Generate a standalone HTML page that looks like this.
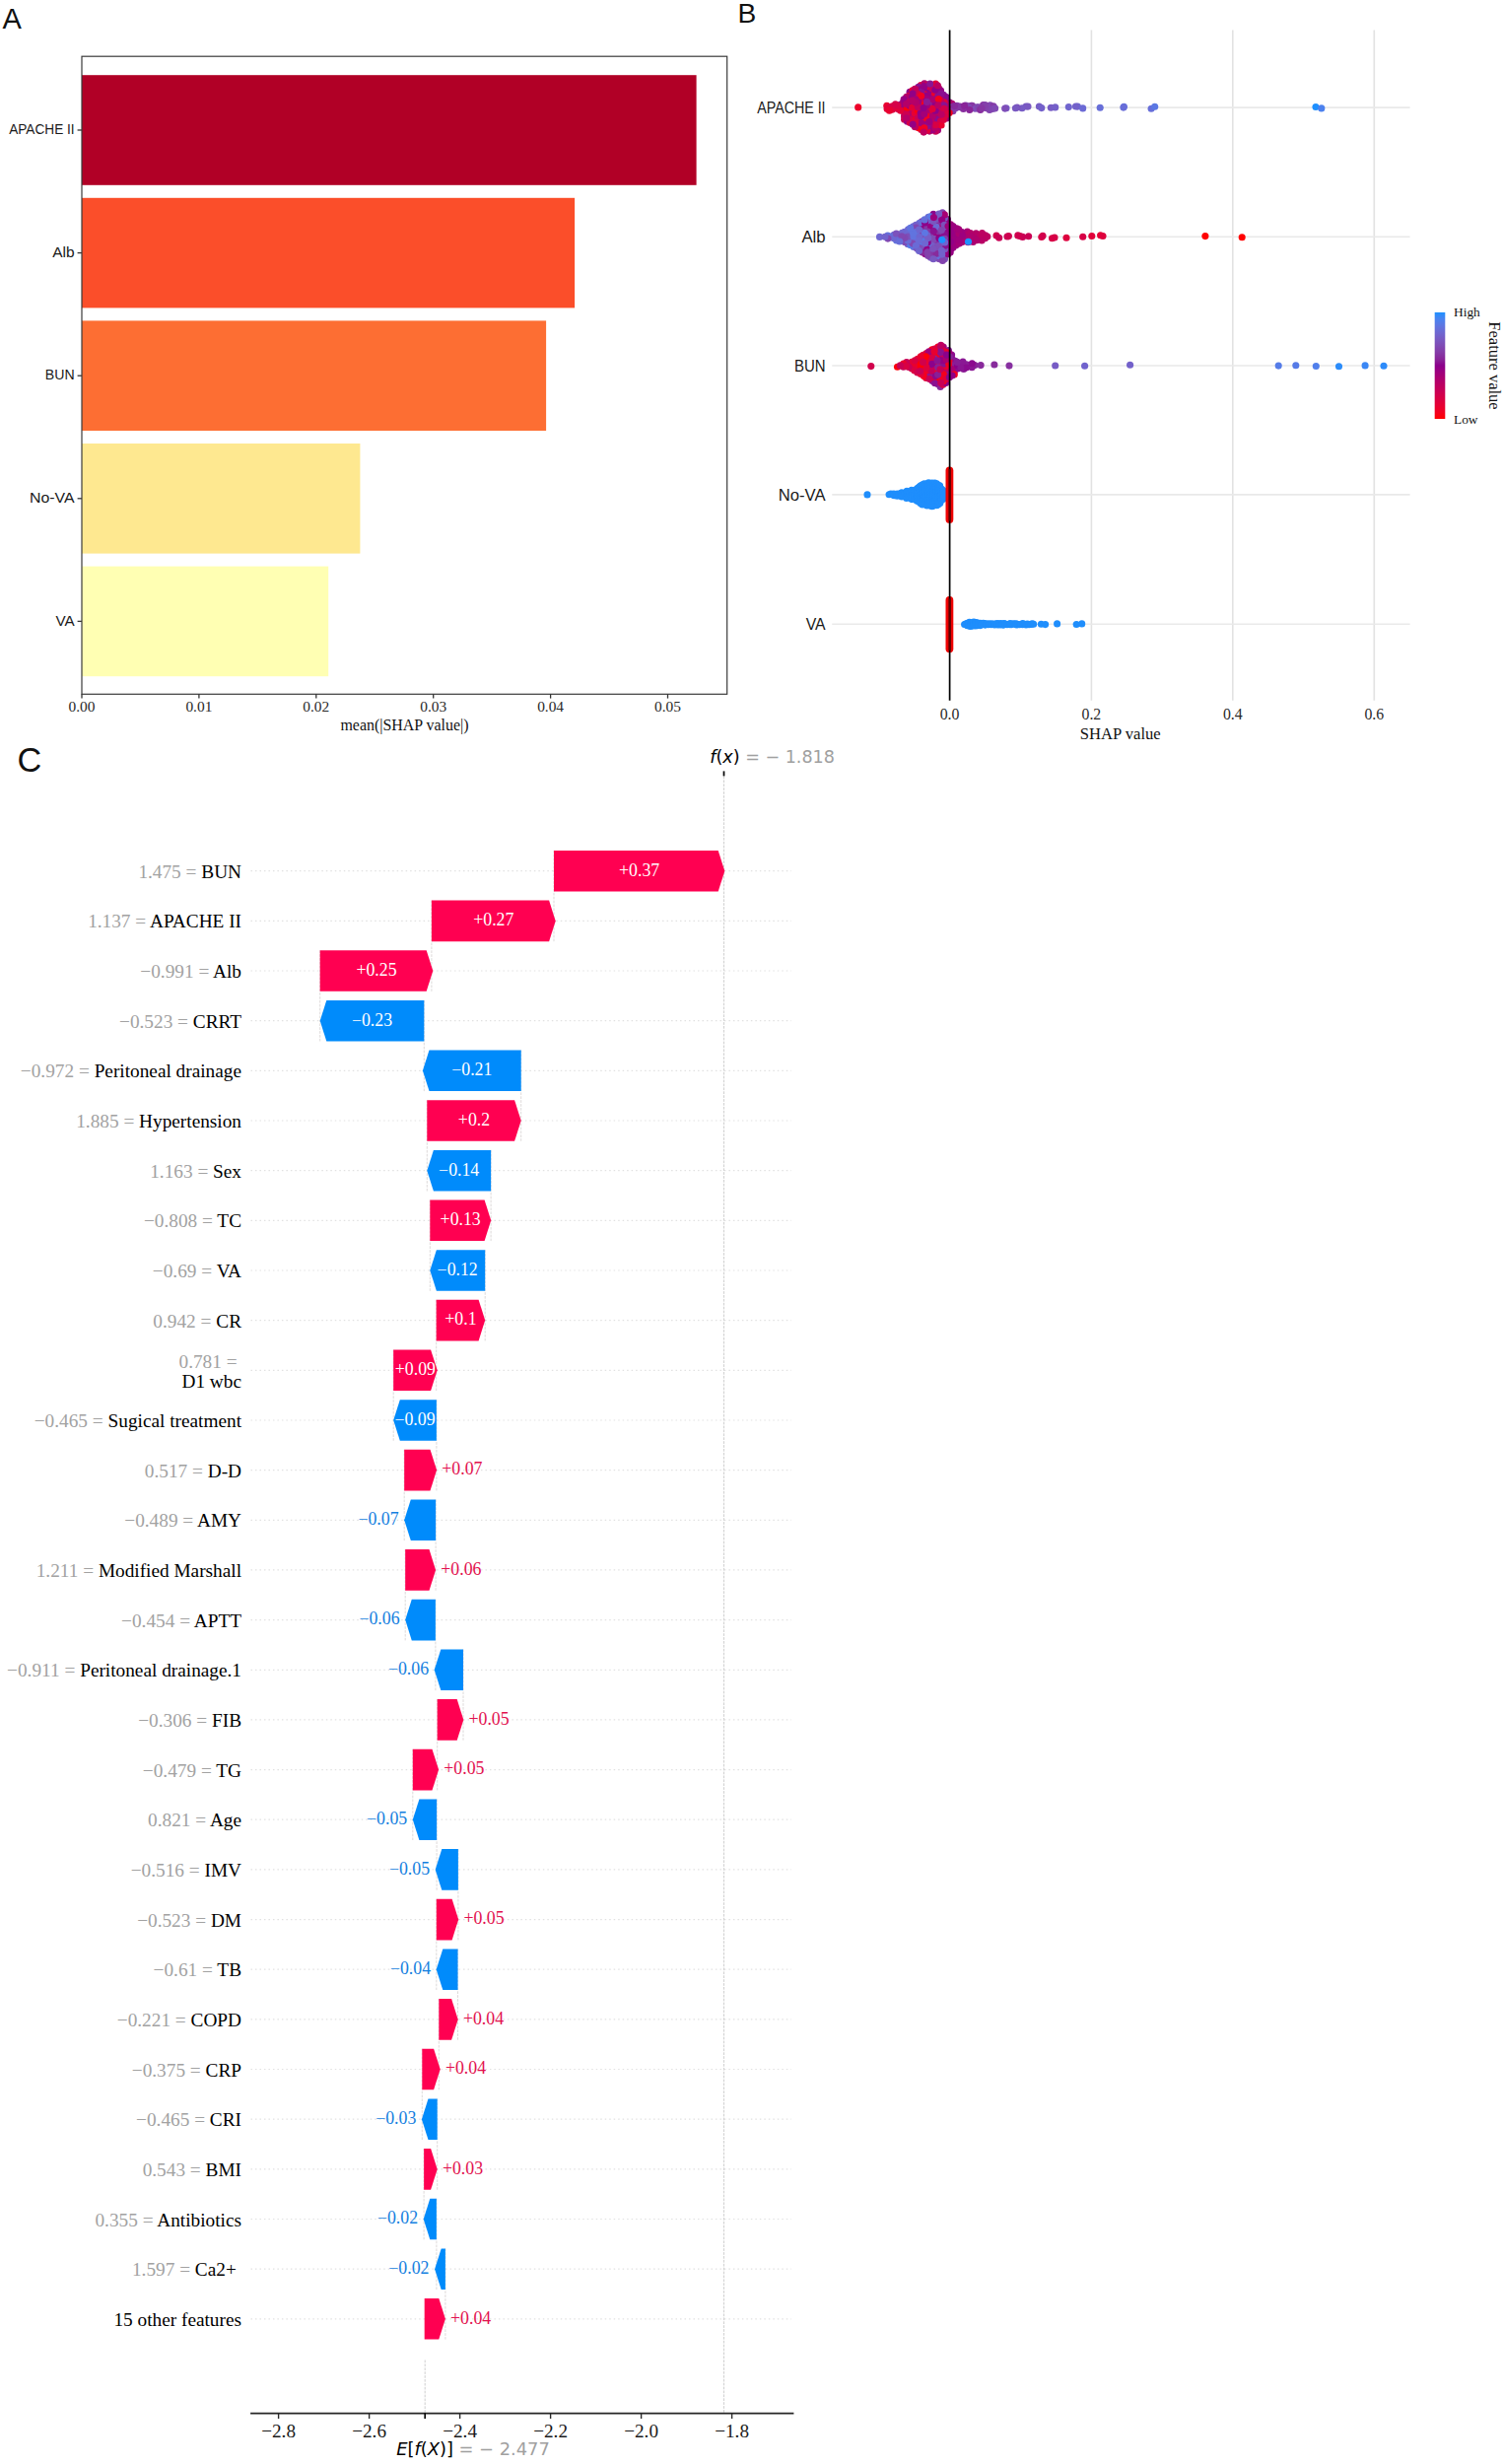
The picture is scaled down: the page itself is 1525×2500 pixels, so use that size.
<!DOCTYPE html>
<html lang="en"><head><meta charset="utf-8"><title>SHAP summary figure</title>
<style>html,body{margin:0;padding:0;background:#fff}svg{display:block}.se{font-family:"Liberation Serif", "DejaVu Serif", serif}.sa{font-family:"Liberation Sans", "DejaVu Sans", sans-serif}.dj{font-family:"DejaVu Sans", "Liberation Sans", sans-serif}</style></head><body>
<svg width="1525" height="2500" viewBox="0 0 1525 2500">
<rect width="1525" height="2500" fill="#fff"/>
<g id="panelA">
<text class="sa" x="2.6" y="28.7" font-size="29.0" fill="#111">A</text>
<rect x="83" y="76.2" width="623.6" height="111.6" fill="#B10026"/>
<line x1="78.6" x2="83" y1="132" y2="132" stroke="#333" stroke-width="1.3"/>
<text class="sa" x="75.6" y="136.1" font-size="15.0" text-anchor="end" fill="#1a1a1a" textLength="66.4" lengthAdjust="spacingAndGlyphs">APACHE II</text>
<rect x="83" y="200.8" width="500.1" height="111.6" fill="#FB4E2A"/>
<line x1="78.6" x2="83" y1="256.6" y2="256.6" stroke="#333" stroke-width="1.3"/>
<text class="sa" x="75.6" y="260.7" font-size="15.0" text-anchor="end" fill="#1a1a1a" textLength="22.4" lengthAdjust="spacingAndGlyphs">Alb</text>
<rect x="83" y="325.4" width="471.1" height="111.6" fill="#FD6E33"/>
<line x1="78.6" x2="83" y1="381.2" y2="381.2" stroke="#333" stroke-width="1.3"/>
<text class="sa" x="75.6" y="385.3" font-size="15.0" text-anchor="end" fill="#1a1a1a" textLength="29.8" lengthAdjust="spacingAndGlyphs">BUN</text>
<rect x="83" y="450" width="282.4" height="111.6" fill="#FEE890"/>
<line x1="78.6" x2="83" y1="505.8" y2="505.8" stroke="#333" stroke-width="1.3"/>
<text class="sa" x="75.6" y="509.9" font-size="15.0" text-anchor="end" fill="#1a1a1a" textLength="45.6" lengthAdjust="spacingAndGlyphs">No-VA</text>
<rect x="83" y="574.6" width="250.2" height="111.6" fill="#FFFFB3"/>
<line x1="78.6" x2="83" y1="630.4" y2="630.4" stroke="#333" stroke-width="1.3"/>
<text class="sa" x="75.6" y="634.5" font-size="15.0" text-anchor="end" fill="#1a1a1a" textLength="19.2" lengthAdjust="spacingAndGlyphs">VA</text>
<rect x="83" y="57.2" width="654.7" height="647.1" fill="none" stroke="#3a3a3a" stroke-width="1.2"/>
<line x1="83" x2="83" y1="704.3" y2="708.6" stroke="#333" stroke-width="1.3"/>
<text class="se" x="83" y="722.4" font-size="15.4" text-anchor="middle" fill="#2a2a2a">0.00</text>
<line x1="201.9" x2="201.9" y1="704.3" y2="708.6" stroke="#333" stroke-width="1.3"/>
<text class="se" x="201.9" y="722.4" font-size="15.4" text-anchor="middle" fill="#2a2a2a">0.01</text>
<line x1="320.8" x2="320.8" y1="704.3" y2="708.6" stroke="#333" stroke-width="1.3"/>
<text class="se" x="320.8" y="722.4" font-size="15.4" text-anchor="middle" fill="#2a2a2a">0.02</text>
<line x1="439.7" x2="439.7" y1="704.3" y2="708.6" stroke="#333" stroke-width="1.3"/>
<text class="se" x="439.7" y="722.4" font-size="15.4" text-anchor="middle" fill="#2a2a2a">0.03</text>
<line x1="558.6" x2="558.6" y1="704.3" y2="708.6" stroke="#333" stroke-width="1.3"/>
<text class="se" x="558.6" y="722.4" font-size="15.4" text-anchor="middle" fill="#2a2a2a">0.04</text>
<line x1="677.5" x2="677.5" y1="704.3" y2="708.6" stroke="#333" stroke-width="1.3"/>
<text class="se" x="677.5" y="722.4" font-size="15.4" text-anchor="middle" fill="#2a2a2a">0.05</text>
<text class="se" x="410.5" y="741.2" font-size="15.95" text-anchor="middle" fill="#111">mean(|SHAP value|)</text>
</g>
<g id="panelB">
<text class="sa" x="748.4" y="23.4" font-size="28.2" fill="#111">B</text>
<line x1="1107.4" x2="1107.4" y1="30.6" y2="710.8" stroke="#e2e2e2" stroke-width="1.6"/>
<line x1="1250.8" x2="1250.8" y1="30.6" y2="710.8" stroke="#e2e2e2" stroke-width="1.6"/>
<line x1="1394.3" x2="1394.3" y1="30.6" y2="710.8" stroke="#e2e2e2" stroke-width="1.6"/>
<line x1="844.3" x2="1430.6" y1="109.1" y2="109.1" stroke="#e9e9e9" stroke-width="1.6"/>
<text class="sa" x="837.6" y="114.9" font-size="15.7" text-anchor="end" fill="#1a1a1a" textLength="69.4" lengthAdjust="spacingAndGlyphs">APACHE II</text>
<line x1="844.3" x2="1430.6" y1="240.2" y2="240.2" stroke="#e9e9e9" stroke-width="1.6"/>
<text class="sa" x="837.6" y="246" font-size="15.7" text-anchor="end" fill="#1a1a1a" textLength="24.2" lengthAdjust="spacingAndGlyphs">Alb</text>
<line x1="844.3" x2="1430.6" y1="371" y2="371" stroke="#e9e9e9" stroke-width="1.6"/>
<text class="sa" x="837.6" y="376.8" font-size="15.7" text-anchor="end" fill="#1a1a1a" textLength="31.6" lengthAdjust="spacingAndGlyphs">BUN</text>
<line x1="844.3" x2="1430.6" y1="501.9" y2="501.9" stroke="#e9e9e9" stroke-width="1.6"/>
<text class="sa" x="837.6" y="507.7" font-size="15.7" text-anchor="end" fill="#1a1a1a" textLength="47.8" lengthAdjust="spacingAndGlyphs">No-VA</text>
<line x1="844.3" x2="1430.6" y1="633.3" y2="633.3" stroke="#e9e9e9" stroke-width="1.6"/>
<text class="sa" x="837.6" y="639.1" font-size="15.7" text-anchor="end" fill="#1a1a1a" textLength="19.9" lengthAdjust="spacingAndGlyphs">VA</text>
<g>
<circle cx="957.7" cy="100.5" r="3.55" fill="#891d96"/>
<circle cx="1093.4" cy="108.1" r="3.55" fill="#6f66cf"/>
<circle cx="928.5" cy="110.3" r="3.55" fill="#df003c"/>
<circle cx="942.9" cy="108.8" r="3.55" fill="#f80012"/>
<circle cx="923.1" cy="114.7" r="3.55" fill="#8f0088"/>
<circle cx="949.6" cy="115.8" r="3.55" fill="#df003b"/>
<circle cx="934.3" cy="86.5" r="3.55" fill="#da0042"/>
<circle cx="943.7" cy="98.8" r="3.55" fill="#ae006e"/>
<circle cx="938" cy="84.7" r="3.55" fill="#b0006c"/>
<circle cx="920.2" cy="112.9" r="3.55" fill="#e10039"/>
<circle cx="975.9" cy="109" r="3.55" fill="#8635a3"/>
<circle cx="937.8" cy="102.1" r="3.55" fill="#dd003e"/>
<circle cx="946.3" cy="103.9" r="3.55" fill="#900087"/>
<circle cx="951.9" cy="128.1" r="3.55" fill="#b30069"/>
<circle cx="1041" cy="108" r="3.55" fill="#7859c2"/>
<circle cx="917.6" cy="110.9" r="3.55" fill="#d70045"/>
<circle cx="946.3" cy="93.3" r="3.55" fill="#f5001a"/>
<circle cx="940.3" cy="121.3" r="3.55" fill="#8b028c"/>
<circle cx="951.5" cy="132.1" r="3.55" fill="#a40077"/>
<circle cx="960.7" cy="112.7" r="3.55" fill="#970082"/>
<circle cx="914.1" cy="108.7" r="3.55" fill="#aa0072"/>
<circle cx="960.4" cy="102.1" r="3.55" fill="#a1007a"/>
<circle cx="899.8" cy="107.2" r="3.55" fill="#e9002f"/>
<circle cx="1168.1" cy="110.2" r="3.55" fill="#676ed9"/>
<circle cx="963.5" cy="110.9" r="3.55" fill="#f00024"/>
<circle cx="923.1" cy="93.2" r="3.55" fill="#8c008a"/>
<circle cx="960.7" cy="120" r="3.55" fill="#a30079"/>
<circle cx="948.8" cy="88.1" r="3.55" fill="#8a1994"/>
<circle cx="920.5" cy="102.6" r="3.55" fill="#b60067"/>
<circle cx="937.5" cy="92.1" r="3.55" fill="#b90064"/>
<circle cx="971" cy="107.4" r="3.55" fill="#843da8"/>
<circle cx="917.6" cy="114.6" r="3.55" fill="#b80065"/>
<circle cx="1335" cy="108.5" r="3.55" fill="#1e90ff"/>
<circle cx="934.6" cy="100.8" r="3.55" fill="#cd0051"/>
<circle cx="946.3" cy="107.2" r="3.55" fill="#9d007d"/>
<circle cx="1054.4" cy="108" r="3.55" fill="#765cc5"/>
<circle cx="1004.7" cy="106.9" r="3.55" fill="#8145b0"/>
<circle cx="917.5" cy="118.1" r="3.55" fill="#bf005e"/>
<circle cx="943" cy="112.6" r="3.55" fill="#a40077"/>
<circle cx="934.7" cy="131.4" r="3.55" fill="#d60046"/>
<circle cx="931.8" cy="126.3" r="3.55" fill="#fb000b"/>
<circle cx="1066.3" cy="109.3" r="3.55" fill="#775bc4"/>
<circle cx="1004.1" cy="111.4" r="3.55" fill="#8242ad"/>
<circle cx="928.3" cy="117.3" r="3.55" fill="#8c008a"/>
<circle cx="1037" cy="109.7" r="3.55" fill="#775cc5"/>
<circle cx="966.9" cy="112.7" r="3.55" fill="#8636a3"/>
<circle cx="923.4" cy="100.3" r="3.55" fill="#c60057"/>
<circle cx="937.7" cy="112.5" r="3.55" fill="#9c007f"/>
<circle cx="948.9" cy="101.9" r="3.55" fill="#a0007b"/>
<circle cx="940.3" cy="93.2" r="3.55" fill="#ba0063"/>
<circle cx="943.6" cy="94.6" r="3.55" fill="#d40048"/>
<circle cx="949" cy="120.1" r="3.55" fill="#8d008a"/>
<circle cx="913.8" cy="106" r="3.55" fill="#940085"/>
<circle cx="957.4" cy="96.3" r="3.55" fill="#8a1091"/>
<circle cx="922.4" cy="97.2" r="3.55" fill="#e40035"/>
<circle cx="963.8" cy="107" r="3.55" fill="#ab0070"/>
<circle cx="949.3" cy="133.3" r="3.55" fill="#c60058"/>
<circle cx="943.1" cy="133.1" r="3.55" fill="#b2006a"/>
<circle cx="942.7" cy="119.5" r="3.55" fill="#bc0061"/>
<circle cx="977.5" cy="110.5" r="3.55" fill="#882d9e"/>
<circle cx="870.7" cy="108.9" r="3.55" fill="#ed0029"/>
<circle cx="917.6" cy="121.2" r="3.55" fill="#cd0051"/>
<circle cx="916.7" cy="103.4" r="3.55" fill="#ad006f"/>
<circle cx="943.7" cy="116.1" r="3.55" fill="#c3005b"/>
<circle cx="922.5" cy="111.3" r="3.55" fill="#a90073"/>
<circle cx="952.1" cy="104" r="3.55" fill="#c70057"/>
<circle cx="1021" cy="109.7" r="3.55" fill="#785ac3"/>
<circle cx="1171.7" cy="108.3" r="3.55" fill="#5b78e3"/>
<circle cx="911.9" cy="111.1" r="3.55" fill="#cd0051"/>
<circle cx="946.1" cy="97.1" r="3.55" fill="#a2007a"/>
<circle cx="949.3" cy="99" r="3.55" fill="#ce0050"/>
<circle cx="928.4" cy="97.1" r="3.55" fill="#960083"/>
<circle cx="954.7" cy="98.2" r="3.55" fill="#c70056"/>
<circle cx="923.4" cy="117.9" r="3.55" fill="#930085"/>
<circle cx="940.1" cy="89.4" r="3.55" fill="#8c008b"/>
<circle cx="908.3" cy="109.3" r="3.55" fill="#e60033"/>
<circle cx="926.3" cy="115.7" r="3.55" fill="#b2006a"/>
<circle cx="917.1" cy="107.6" r="3.55" fill="#990081"/>
<circle cx="955" cy="113" r="3.55" fill="#cb0053"/>
<circle cx="951.5" cy="93.5" r="3.55" fill="#ba0063"/>
<circle cx="940.1" cy="125.1" r="3.55" fill="#8f0088"/>
<circle cx="937.1" cy="98.6" r="3.55" fill="#ae006e"/>
<circle cx="937.2" cy="106" r="3.55" fill="#8e0089"/>
<circle cx="943.8" cy="91.2" r="3.55" fill="#910087"/>
<circle cx="969.5" cy="109.7" r="3.55" fill="#8340ac"/>
<circle cx="951.4" cy="117.8" r="3.55" fill="#8d0089"/>
<circle cx="925.4" cy="123.5" r="3.55" fill="#d1004c"/>
<circle cx="934.7" cy="110.8" r="3.55" fill="#f60019"/>
<circle cx="943.4" cy="102.1" r="3.55" fill="#920086"/>
<circle cx="949.3" cy="85.1" r="3.55" fill="#e20038"/>
<circle cx="955.2" cy="105.1" r="3.55" fill="#8b088e"/>
<circle cx="937.9" cy="126.1" r="3.55" fill="#940085"/>
<circle cx="952" cy="125" r="3.55" fill="#8e0089"/>
<circle cx="946.3" cy="131.7" r="3.55" fill="#9d007e"/>
<circle cx="942.8" cy="105.1" r="3.55" fill="#891f96"/>
<circle cx="932" cy="129.7" r="3.55" fill="#f70015"/>
<circle cx="913.8" cy="112.3" r="3.55" fill="#e0003b"/>
<circle cx="925.8" cy="112.3" r="3.55" fill="#b80065"/>
<circle cx="948.6" cy="95.1" r="3.55" fill="#ed0029"/>
<circle cx="945.8" cy="86.3" r="3.55" fill="#ec002a"/>
<circle cx="937.9" cy="95.6" r="3.55" fill="#de003c"/>
<circle cx="919.8" cy="98.3" r="3.55" fill="#b1006c"/>
<circle cx="1002.8" cy="109.3" r="3.55" fill="#8049b3"/>
<circle cx="932.2" cy="116.6" r="3.55" fill="#8c008a"/>
<circle cx="963.6" cy="104" r="3.55" fill="#9a0080"/>
<circle cx="905.4" cy="107.8" r="3.55" fill="#d80044"/>
<circle cx="917.1" cy="100.9" r="3.55" fill="#960083"/>
<circle cx="942.7" cy="129.9" r="3.55" fill="#980081"/>
<circle cx="940.6" cy="97" r="3.55" fill="#940084"/>
<circle cx="960.3" cy="98.6" r="3.55" fill="#8b098e"/>
<circle cx="946.6" cy="127.8" r="3.55" fill="#990081"/>
<circle cx="1070.7" cy="108.9" r="3.55" fill="#745fc8"/>
<circle cx="958" cy="114.7" r="3.55" fill="#8a0e90"/>
<circle cx="966" cy="105.2" r="3.55" fill="#ae006e"/>
<circle cx="920.2" cy="109.5" r="3.55" fill="#fa000e"/>
<circle cx="948.8" cy="108.6" r="3.55" fill="#f10023"/>
<circle cx="934.1" cy="121.1" r="3.55" fill="#cb0053"/>
<circle cx="935" cy="128.1" r="3.55" fill="#f4001e"/>
<circle cx="1140.4" cy="108.3" r="3.55" fill="#6570db"/>
<circle cx="948.8" cy="129.9" r="3.55" fill="#b50068"/>
<circle cx="1019.6" cy="110.1" r="3.55" fill="#7e4eb8"/>
<circle cx="934" cy="104" r="3.55" fill="#e20038"/>
<circle cx="903" cy="109.1" r="3.55" fill="#d40049"/>
<circle cx="1098.7" cy="109.9" r="3.55" fill="#6b6ad5"/>
<circle cx="931.8" cy="88.3" r="3.55" fill="#8a1091"/>
<circle cx="928.3" cy="107.6" r="3.55" fill="#960083"/>
<circle cx="1056.8" cy="109.6" r="3.55" fill="#7360ca"/>
<circle cx="931.5" cy="98.1" r="3.55" fill="#db0040"/>
<circle cx="925.6" cy="98.6" r="3.55" fill="#920086"/>
<circle cx="954.5" cy="119.3" r="3.55" fill="#8b068d"/>
<circle cx="946.2" cy="124.8" r="3.55" fill="#a70074"/>
<circle cx="974" cy="108" r="3.55" fill="#872f9f"/>
<circle cx="919.6" cy="116" r="3.55" fill="#cd0051"/>
<circle cx="966.2" cy="108.6" r="3.55" fill="#853ca8"/>
<circle cx="934.5" cy="106.9" r="3.55" fill="#f4001e"/>
<circle cx="946.1" cy="120.9" r="3.55" fill="#8e0089"/>
<circle cx="940.7" cy="132.2" r="3.55" fill="#e10039"/>
<circle cx="922.6" cy="103.6" r="3.55" fill="#bd0060"/>
<circle cx="926.3" cy="120.1" r="3.55" fill="#c70057"/>
<circle cx="946" cy="114.9" r="3.55" fill="#dc003f"/>
<circle cx="929.2" cy="121.5" r="3.55" fill="#f60017"/>
<circle cx="940.1" cy="100.4" r="3.55" fill="#9e007d"/>
<circle cx="940.3" cy="110.5" r="3.55" fill="#c80055"/>
<circle cx="931.5" cy="91.6" r="3.55" fill="#c1005c"/>
<circle cx="900.1" cy="110.6" r="3.55" fill="#e20037"/>
<circle cx="940.8" cy="86.3" r="3.55" fill="#d0004d"/>
<circle cx="963.2" cy="114.5" r="3.55" fill="#f10022"/>
<circle cx="923" cy="121.8" r="3.55" fill="#d70046"/>
<circle cx="905.7" cy="111.1" r="3.55" fill="#dd003f"/>
<circle cx="948.6" cy="123.1" r="3.55" fill="#be005f"/>
<circle cx="934.9" cy="90.3" r="3.55" fill="#950083"/>
<circle cx="1008" cy="107.9" r="3.55" fill="#853ba7"/>
<circle cx="928.3" cy="114.7" r="3.55" fill="#e60034"/>
<circle cx="988.1" cy="109.7" r="3.55" fill="#8244af"/>
<circle cx="1116.2" cy="109.3" r="3.55" fill="#676ed8"/>
<circle cx="902.4" cy="112.2" r="3.55" fill="#e80030"/>
<circle cx="986.5" cy="107.2" r="3.55" fill="#8637a4"/>
<circle cx="960.6" cy="116.1" r="3.55" fill="#db0041"/>
<circle cx="937.2" cy="123" r="3.55" fill="#9b0080"/>
<circle cx="1032" cy="109" r="3.55" fill="#7b54bd"/>
<circle cx="931.1" cy="123" r="3.55" fill="#930085"/>
<circle cx="952.4" cy="89.3" r="3.55" fill="#b50067"/>
<circle cx="920.5" cy="123.3" r="3.55" fill="#960083"/>
<circle cx="951.5" cy="121.2" r="3.55" fill="#8a0b8f"/>
<circle cx="931.1" cy="120" r="3.55" fill="#ca0054"/>
<circle cx="940" cy="114.4" r="3.55" fill="#ac0070"/>
<circle cx="934.9" cy="93" r="3.55" fill="#8a1091"/>
<circle cx="991.1" cy="108.9" r="3.55" fill="#7f4bb5"/>
<circle cx="923.3" cy="124.5" r="3.55" fill="#d80044"/>
<circle cx="925.9" cy="91.9" r="3.55" fill="#e40035"/>
<circle cx="937" cy="120.1" r="3.55" fill="#ef0025"/>
<circle cx="928.3" cy="93.1" r="3.55" fill="#f20021"/>
<circle cx="954.5" cy="91.9" r="3.55" fill="#980082"/>
<circle cx="952.2" cy="111.3" r="3.55" fill="#eb002b"/>
<circle cx="926.3" cy="105.3" r="3.55" fill="#980081"/>
<circle cx="919.7" cy="119.9" r="3.55" fill="#b60067"/>
<circle cx="931.2" cy="106" r="3.55" fill="#8a0a8f"/>
<circle cx="1139.9" cy="109.1" r="3.55" fill="#686dd8"/>
<circle cx="954.5" cy="122.9" r="3.55" fill="#d1004d"/>
<circle cx="960.3" cy="105.5" r="3.55" fill="#ac0070"/>
<circle cx="1340.8" cy="109.9" r="3.55" fill="#4c81ee"/>
<circle cx="985.4" cy="107.3" r="3.55" fill="#8636a4"/>
<circle cx="981.8" cy="107.8" r="3.55" fill="#89279a"/>
<circle cx="989.8" cy="110.2" r="3.55" fill="#7f4cb6"/>
<circle cx="982.7" cy="108.7" r="3.55" fill="#8049b4"/>
<circle cx="958.1" cy="103.7" r="3.55" fill="#dd003e"/>
<circle cx="931.5" cy="95.5" r="3.55" fill="#d60046"/>
<circle cx="973" cy="108.6" r="3.55" fill="#8635a3"/>
<circle cx="955.1" cy="127" r="3.55" fill="#ea002e"/>
<circle cx="980" cy="107" r="3.55" fill="#8147b1"/>
<circle cx="949.4" cy="126.8" r="3.55" fill="#d80044"/>
<circle cx="955" cy="109.3" r="3.55" fill="#d50048"/>
<circle cx="1030.4" cy="109.7" r="3.55" fill="#7958c1"/>
<circle cx="931.3" cy="112.3" r="3.55" fill="#f90010"/>
<circle cx="928.3" cy="90.3" r="3.55" fill="#c2005b"/>
<circle cx="943" cy="126.5" r="3.55" fill="#ab0071"/>
<circle cx="928.4" cy="128.8" r="3.55" fill="#ba0062"/>
<circle cx="954.4" cy="102.1" r="3.55" fill="#c2005b"/>
<circle cx="951.8" cy="97.3" r="3.55" fill="#8a0f91"/>
<circle cx="968.5" cy="107.6" r="3.55" fill="#88299b"/>
<circle cx="934.7" cy="124.8" r="3.55" fill="#a1007a"/>
<circle cx="997.6" cy="106.5" r="3.55" fill="#8732a1"/>
<circle cx="1000.3" cy="109.6" r="3.55" fill="#8341ac"/>
<circle cx="983.8" cy="111.5" r="3.55" fill="#892599"/>
<circle cx="931.8" cy="102.5" r="3.55" fill="#a1007a"/>
<circle cx="961.1" cy="108.7" r="3.55" fill="#b40069"/>
<circle cx="992.9" cy="108.7" r="3.55" fill="#8145af"/>
<circle cx="940.1" cy="117.9" r="3.55" fill="#f00024"/>
<circle cx="943" cy="87.7" r="3.55" fill="#d60047"/>
<circle cx="1006.9" cy="110.5" r="3.55" fill="#8145b0"/>
<circle cx="934.1" cy="114.8" r="3.55" fill="#8f0088"/>
<circle cx="957.7" cy="106.9" r="3.55" fill="#8a1191"/>
<circle cx="946.4" cy="117.7" r="3.55" fill="#af006d"/>
<circle cx="951.8" cy="114.2" r="3.55" fill="#b80065"/>
<circle cx="940.9" cy="127.9" r="3.55" fill="#8a0e90"/>
<circle cx="978.6" cy="107.3" r="3.55" fill="#892398"/>
<circle cx="926" cy="95.1" r="3.55" fill="#910086"/>
<circle cx="945.8" cy="89.7" r="3.55" fill="#c90054"/>
<circle cx="934.6" cy="118.1" r="3.55" fill="#920086"/>
<circle cx="948.9" cy="91.3" r="3.55" fill="#8d0089"/>
<circle cx="937.9" cy="87.6" r="3.55" fill="#940085"/>
<circle cx="911" cy="107.3" r="3.55" fill="#d80044"/>
<circle cx="1043" cy="108.1" r="3.55" fill="#7959c2"/>
<circle cx="949.1" cy="112.2" r="3.55" fill="#8c008a"/>
<circle cx="958" cy="118.3" r="3.55" fill="#d2004b"/>
<circle cx="955" cy="95" r="3.55" fill="#8a0f90"/>
<circle cx="957.3" cy="121.5" r="3.55" fill="#dd003e"/>
<circle cx="949.2" cy="105.6" r="3.55" fill="#8e0089"/>
<circle cx="946.7" cy="100.8" r="3.55" fill="#aa0072"/>
<circle cx="923.2" cy="107.2" r="3.55" fill="#8f0088"/>
<circle cx="943.7" cy="85" r="3.55" fill="#8a1593"/>
<circle cx="928.5" cy="124.4" r="3.55" fill="#d90043"/>
<circle cx="951.4" cy="86.8" r="3.55" fill="#bc0061"/>
<circle cx="994.3" cy="110.7" r="3.55" fill="#8244af"/>
<circle cx="937.8" cy="115.6" r="3.55" fill="#a30078"/>
<circle cx="925.4" cy="109" r="3.55" fill="#e10039"/>
<circle cx="942.9" cy="123.5" r="3.55" fill="#9d007d"/>
<circle cx="946.1" cy="110.4" r="3.55" fill="#df003b"/>
<circle cx="999.6" cy="106.5" r="3.55" fill="#843faa"/>
<circle cx="940.3" cy="107" r="3.55" fill="#a0007b"/>
<circle cx="931.4" cy="108.8" r="3.55" fill="#c0005d"/>
<circle cx="934.6" cy="97.2" r="3.55" fill="#f10023"/>
<circle cx="928.9" cy="100.8" r="3.55" fill="#a20079"/>
<circle cx="937.1" cy="109.6" r="3.55" fill="#8e0089"/>
<circle cx="908.5" cy="105.8" r="3.55" fill="#d50048"/>
<circle cx="952.3" cy="100.5" r="3.55" fill="#f4001d"/>
<circle cx="1084.3" cy="108.6" r="3.55" fill="#7065ce"/>
<circle cx="940.5" cy="103.4" r="3.55" fill="#8a1b95"/>
<circle cx="919.6" cy="105.6" r="3.55" fill="#b40068"/>
<circle cx="957.9" cy="110.3" r="3.55" fill="#d1004c"/>
<circle cx="994.7" cy="111.4" r="3.55" fill="#882e9e"/>
<circle cx="996.1" cy="109.8" r="3.55" fill="#8635a3"/>
<circle cx="937.8" cy="129.9" r="3.55" fill="#f00024"/>
<circle cx="1009.6" cy="109.9" r="3.55" fill="#8049b3"/>
<circle cx="937.2" cy="134.1" r="3.55" fill="#bf005e"/>
<circle cx="926.2" cy="126.2" r="3.55" fill="#950084"/>
<circle cx="955.2" cy="116.2" r="3.55" fill="#ba0063"/>
<circle cx="951.8" cy="106.8" r="3.55" fill="#b90064"/>
<circle cx="929.2" cy="103.9" r="3.55" fill="#b2006a"/>
<circle cx="1091.5" cy="108" r="3.55" fill="#7361ca"/>
<circle cx="925.6" cy="102.1" r="3.55" fill="#b60067"/>
<circle cx="967" cy="240.4" r="3.55" fill="#930085"/>
<circle cx="970.7" cy="231.9" r="3.55" fill="#a40077"/>
<circle cx="961.2" cy="251.2" r="3.55" fill="#970082"/>
<circle cx="941.9" cy="220.4" r="3.55" fill="#6b6ad4"/>
<circle cx="938.9" cy="257.8" r="3.55" fill="#940084"/>
<circle cx="938.8" cy="254.6" r="3.55" fill="#8244af"/>
<circle cx="961.2" cy="243.9" r="3.55" fill="#970082"/>
<circle cx="999.5" cy="241.8" r="3.55" fill="#bb0062"/>
<circle cx="917.8" cy="235.2" r="3.55" fill="#6e67d1"/>
<circle cx="930.2" cy="242.2" r="3.55" fill="#7f4ab5"/>
<circle cx="941.4" cy="228.2" r="3.55" fill="#970082"/>
<circle cx="944.3" cy="247.6" r="3.55" fill="#7b53bc"/>
<circle cx="952.4" cy="224.4" r="3.55" fill="#7262cc"/>
<circle cx="941.1" cy="224.8" r="3.55" fill="#6c69d3"/>
<circle cx="1116.6" cy="238.8" r="3.55" fill="#e40035"/>
<circle cx="955.7" cy="260.9" r="3.55" fill="#8242ad"/>
<circle cx="978.7" cy="244.1" r="3.55" fill="#a50076"/>
<circle cx="993.9" cy="241.8" r="3.55" fill="#ad006e"/>
<circle cx="943.8" cy="243.8" r="3.55" fill="#8a1593"/>
<circle cx="935.8" cy="239" r="3.55" fill="#7262cc"/>
<circle cx="1056.8" cy="240.5" r="3.55" fill="#d80045"/>
<circle cx="939" cy="250.2" r="3.55" fill="#8242ad"/>
<circle cx="964.7" cy="238.2" r="3.55" fill="#9e007d"/>
<circle cx="953.2" cy="228" r="3.55" fill="#89279a"/>
<circle cx="950.2" cy="247.7" r="3.55" fill="#8a1292"/>
<circle cx="1011" cy="239.1" r="3.55" fill="#ce004f"/>
<circle cx="950.3" cy="236.6" r="3.55" fill="#892498"/>
<circle cx="964.6" cy="241.9" r="3.55" fill="#910087"/>
<circle cx="935.3" cy="249.5" r="3.55" fill="#8d008a"/>
<circle cx="921.2" cy="247.7" r="3.55" fill="#7262cc"/>
<circle cx="932.2" cy="229.5" r="3.55" fill="#7064cd"/>
<circle cx="970.2" cy="241.8" r="3.55" fill="#9e007d"/>
<circle cx="956" cy="240.7" r="3.55" fill="#8049b3"/>
<circle cx="958.5" cy="262.7" r="3.55" fill="#7d4eb8"/>
<circle cx="964.4" cy="231.4" r="3.55" fill="#9e007d"/>
<circle cx="936.1" cy="242.4" r="3.55" fill="#8f0088"/>
<circle cx="909.6" cy="243.9" r="3.55" fill="#6372dc"/>
<circle cx="955.7" cy="226.4" r="3.55" fill="#a30078"/>
<circle cx="944.6" cy="254.3" r="3.55" fill="#7957c0"/>
<circle cx="918.3" cy="245.8" r="3.55" fill="#7e4cb6"/>
<circle cx="944" cy="251" r="3.55" fill="#6f65cf"/>
<circle cx="987.3" cy="245.5" r="3.55" fill="#a90073"/>
<circle cx="970.2" cy="245.8" r="3.55" fill="#a30079"/>
<circle cx="1037.6" cy="240.4" r="3.55" fill="#c80056"/>
<circle cx="947" cy="259.4" r="3.55" fill="#7f4cb5"/>
<circle cx="953.3" cy="252.6" r="3.55" fill="#755ec7"/>
<circle cx="947.5" cy="238.8" r="3.55" fill="#7c52bb"/>
<circle cx="981.5" cy="235" r="3.55" fill="#a70075"/>
<circle cx="927" cy="250.5" r="3.55" fill="#6570da"/>
<circle cx="976.3" cy="242.3" r="3.55" fill="#ab0071"/>
<circle cx="950.5" cy="254.3" r="3.55" fill="#755ec7"/>
<circle cx="987.6" cy="238.7" r="3.55" fill="#a70075"/>
<circle cx="979.1" cy="236.6" r="3.55" fill="#a60076"/>
<circle cx="929.8" cy="245.6" r="3.55" fill="#5d77e2"/>
<circle cx="938.3" cy="233" r="3.55" fill="#6570da"/>
<circle cx="912.1" cy="238.7" r="3.55" fill="#7361ca"/>
<circle cx="953.4" cy="238.5" r="3.55" fill="#8c008a"/>
<circle cx="935.6" cy="231.6" r="3.55" fill="#547de9"/>
<circle cx="993.4" cy="238.4" r="3.55" fill="#b70065"/>
<circle cx="950.5" cy="219" r="3.55" fill="#696cd7"/>
<circle cx="892.5" cy="240.4" r="3.55" fill="#6e67d1"/>
<circle cx="921.4" cy="236.6" r="3.55" fill="#6c69d3"/>
<circle cx="907" cy="238.3" r="3.55" fill="#7163cc"/>
<circle cx="961.3" cy="240.7" r="3.55" fill="#910087"/>
<circle cx="967.4" cy="246.9" r="3.55" fill="#9b007f"/>
<circle cx="918.4" cy="238.4" r="3.55" fill="#6a6bd5"/>
<circle cx="953" cy="244.9" r="3.55" fill="#a90073"/>
<circle cx="1035" cy="239.6" r="3.55" fill="#ca0053"/>
<circle cx="964.9" cy="252.5" r="3.55" fill="#940084"/>
<circle cx="947.7" cy="231.6" r="3.55" fill="#8b098e"/>
<circle cx="947.5" cy="255.7" r="3.55" fill="#7859c2"/>
<circle cx="955.7" cy="247.1" r="3.55" fill="#88299b"/>
<circle cx="926.6" cy="244.2" r="3.55" fill="#6d68d2"/>
<circle cx="981.9" cy="242.3" r="3.55" fill="#a80074"/>
<circle cx="947.1" cy="228.2" r="3.55" fill="#9c007e"/>
<circle cx="924.2" cy="235.3" r="3.55" fill="#6b6ad4"/>
<circle cx="949.6" cy="261" r="3.55" fill="#8f0088"/>
<circle cx="976.1" cy="235.5" r="3.55" fill="#9d007e"/>
<circle cx="923.9" cy="248.8" r="3.55" fill="#547ce8"/>
<circle cx="935.3" cy="224.8" r="3.55" fill="#8243ae"/>
<circle cx="955.4" cy="236.7" r="3.55" fill="#8242ad"/>
<circle cx="955.6" cy="229.3" r="3.55" fill="#892197"/>
<circle cx="926.9" cy="233.2" r="3.55" fill="#6b6ad4"/>
<circle cx="961.4" cy="222.6" r="3.55" fill="#920086"/>
<circle cx="924.5" cy="242.3" r="3.55" fill="#6471db"/>
<circle cx="1032.8" cy="238.9" r="3.55" fill="#cf004e"/>
<circle cx="944.3" cy="261.3" r="3.55" fill="#7a56c0"/>
<circle cx="944.2" cy="222.2" r="3.55" fill="#a0007b"/>
<circle cx="952.5" cy="230.9" r="3.55" fill="#a80073"/>
<circle cx="990.3" cy="236.8" r="3.55" fill="#b30069"/>
<circle cx="1070" cy="241" r="3.55" fill="#d60046"/>
<circle cx="924.4" cy="245.3" r="3.55" fill="#7d4fb8"/>
<circle cx="959.3" cy="259.3" r="3.55" fill="#7e4eb8"/>
<circle cx="976.3" cy="245.6" r="3.55" fill="#a70075"/>
<circle cx="999.8" cy="238.8" r="3.55" fill="#b60067"/>
<circle cx="1107.8" cy="239.5" r="3.55" fill="#e10039"/>
<circle cx="981.5" cy="238.3" r="3.55" fill="#af006d"/>
<circle cx="959.1" cy="231.3" r="3.55" fill="#7859c2"/>
<circle cx="990.9" cy="240.1" r="3.55" fill="#b60067"/>
<circle cx="952.5" cy="221" r="3.55" fill="#765dc6"/>
<circle cx="1067.5" cy="241.7" r="3.55" fill="#d70046"/>
<circle cx="915.3" cy="236.2" r="3.55" fill="#6f66d0"/>
<circle cx="950.2" cy="233.1" r="3.55" fill="#696cd6"/>
<circle cx="947" cy="217.2" r="3.55" fill="#8b068d"/>
<circle cx="930.2" cy="238" r="3.55" fill="#6570db"/>
<circle cx="966.9" cy="251.2" r="3.55" fill="#990081"/>
<circle cx="970.7" cy="235.3" r="3.55" fill="#9b007f"/>
<circle cx="932.3" cy="236.9" r="3.55" fill="#7e4eb7"/>
<circle cx="952.8" cy="256.2" r="3.55" fill="#892599"/>
<circle cx="966.9" cy="237.2" r="3.55" fill="#970082"/>
<circle cx="964.2" cy="256.1" r="3.55" fill="#970082"/>
<circle cx="924.3" cy="238.9" r="3.55" fill="#6c69d4"/>
<circle cx="935.6" cy="252.5" r="3.55" fill="#7b55be"/>
<circle cx="947.6" cy="248.4" r="3.55" fill="#666fd9"/>
<circle cx="935.3" cy="228.4" r="3.55" fill="#920086"/>
<circle cx="958.7" cy="256.1" r="3.55" fill="#7b54bd"/>
<circle cx="944.4" cy="225.9" r="3.55" fill="#6f66d0"/>
<circle cx="958.6" cy="224.6" r="3.55" fill="#8145b0"/>
<circle cx="973.6" cy="240.6" r="3.55" fill="#9d007e"/>
<circle cx="967.3" cy="232.8" r="3.55" fill="#a30079"/>
<circle cx="938.5" cy="230.1" r="3.55" fill="#900088"/>
<circle cx="1001.8" cy="240" r="3.55" fill="#bc0061"/>
<circle cx="944.1" cy="257.8" r="3.55" fill="#8637a5"/>
<circle cx="950.6" cy="225.7" r="3.55" fill="#872f9f"/>
<circle cx="947.3" cy="245.6" r="3.55" fill="#765cc5"/>
<circle cx="943.8" cy="240.3" r="3.55" fill="#7261cb"/>
<circle cx="1260.2" cy="240.7" r="3.55" fill="#ff0000"/>
<circle cx="930.3" cy="252.1" r="3.55" fill="#7b54be"/>
<circle cx="953" cy="262.8" r="3.55" fill="#8049b4"/>
<circle cx="943.7" cy="236.3" r="3.55" fill="#853ba7"/>
<circle cx="970.2" cy="238.1" r="3.55" fill="#990081"/>
<circle cx="932.9" cy="226.3" r="3.55" fill="#686dd8"/>
<circle cx="932.3" cy="247.1" r="3.55" fill="#7b54be"/>
<circle cx="1058" cy="239.2" r="3.55" fill="#d2004c"/>
<circle cx="915.4" cy="244.2" r="3.55" fill="#7f4ab4"/>
<circle cx="926.6" cy="229.8" r="3.55" fill="#6b6ad5"/>
<circle cx="1098.7" cy="240.2" r="3.55" fill="#d70046"/>
<circle cx="982.2" cy="245.7" r="3.55" fill="#af006d"/>
<circle cx="962" cy="233.3" r="3.55" fill="#9e007d"/>
<circle cx="967.5" cy="243.3" r="3.55" fill="#9c007e"/>
<circle cx="958.3" cy="235.4" r="3.55" fill="#7163cc"/>
<circle cx="929.3" cy="228.3" r="3.55" fill="#7261cb"/>
<circle cx="955.7" cy="250.3" r="3.55" fill="#7c52bc"/>
<circle cx="1043.6" cy="239.7" r="3.55" fill="#ca0054"/>
<circle cx="950.2" cy="240.1" r="3.55" fill="#9e007d"/>
<circle cx="964.2" cy="249" r="3.55" fill="#9b007f"/>
<circle cx="900.7" cy="239" r="3.55" fill="#6471dc"/>
<circle cx="935.9" cy="256" r="3.55" fill="#89289a"/>
<circle cx="1022" cy="240" r="3.55" fill="#c90055"/>
<circle cx="938.9" cy="239.9" r="3.55" fill="#89279a"/>
<circle cx="961.4" cy="236.3" r="3.55" fill="#900087"/>
<circle cx="952.9" cy="235" r="3.55" fill="#8731a1"/>
<circle cx="961.5" cy="225.7" r="3.55" fill="#900088"/>
<circle cx="939" cy="243.2" r="3.55" fill="#6d68d2"/>
<circle cx="956.4" cy="219.2" r="3.55" fill="#ac0070"/>
<circle cx="949.8" cy="222.5" r="3.55" fill="#7c51bb"/>
<circle cx="952.4" cy="259.6" r="3.55" fill="#676ed9"/>
<circle cx="940.9" cy="231.1" r="3.55" fill="#8636a3"/>
<circle cx="909.9" cy="240.3" r="3.55" fill="#6c69d4"/>
<circle cx="950.1" cy="243.3" r="3.55" fill="#872e9f"/>
<circle cx="938.5" cy="225.9" r="3.55" fill="#8d008a"/>
<circle cx="958.3" cy="221.3" r="3.55" fill="#7959c2"/>
<circle cx="935.2" cy="234.9" r="3.55" fill="#843ea9"/>
<circle cx="964.6" cy="227.7" r="3.55" fill="#a0007b"/>
<circle cx="996.5" cy="236.5" r="3.55" fill="#bc0061"/>
<circle cx="1082" cy="241.3" r="3.55" fill="#dd003e"/>
<circle cx="961.9" cy="247.6" r="3.55" fill="#9a0080"/>
<circle cx="956.3" cy="215.7" r="3.55" fill="#8145b0"/>
<circle cx="955.7" cy="243.4" r="3.55" fill="#910086"/>
<circle cx="996.4" cy="240.7" r="3.55" fill="#bb0061"/>
<circle cx="943.9" cy="219.7" r="3.55" fill="#5b79e4"/>
<circle cx="947.5" cy="242.4" r="3.55" fill="#7f4bb5"/>
<circle cx="944" cy="233.2" r="3.55" fill="#7d4eb8"/>
<circle cx="944.4" cy="230" r="3.55" fill="#960083"/>
<circle cx="962.1" cy="254.4" r="3.55" fill="#920086"/>
<circle cx="952.9" cy="241.5" r="3.55" fill="#8c008a"/>
<circle cx="926.4" cy="247.3" r="3.55" fill="#8049b3"/>
<circle cx="932.5" cy="250.2" r="3.55" fill="#7e4db7"/>
<circle cx="929.4" cy="231" r="3.55" fill="#8047b2"/>
<circle cx="903.8" cy="240" r="3.55" fill="#666fd9"/>
<circle cx="921.2" cy="244" r="3.55" fill="#696cd6"/>
<circle cx="929.6" cy="235.2" r="3.55" fill="#6570da"/>
<circle cx="941.2" cy="248.9" r="3.55" fill="#5f76e1"/>
<circle cx="962" cy="257.8" r="3.55" fill="#970082"/>
<circle cx="958.4" cy="217.9" r="3.55" fill="#a80074"/>
<circle cx="996.1" cy="243.9" r="3.55" fill="#b80065"/>
<circle cx="972.9" cy="236.9" r="3.55" fill="#a90073"/>
<circle cx="941.3" cy="235" r="3.55" fill="#8635a3"/>
<circle cx="958.6" cy="252.8" r="3.55" fill="#7c52bc"/>
<circle cx="955.7" cy="222.9" r="3.55" fill="#930085"/>
<circle cx="940.9" cy="238.9" r="3.55" fill="#7360c9"/>
<circle cx="979.1" cy="240.1" r="3.55" fill="#ac0070"/>
<circle cx="985.1" cy="243.6" r="3.55" fill="#a60076"/>
<circle cx="950" cy="230.2" r="3.55" fill="#6c69d3"/>
<circle cx="938.1" cy="222.9" r="3.55" fill="#666fda"/>
<circle cx="1119" cy="239.5" r="3.55" fill="#de003d"/>
<circle cx="1013.7" cy="241.3" r="3.55" fill="#c90055"/>
<circle cx="950.4" cy="257.3" r="3.55" fill="#882b9c"/>
<circle cx="940.8" cy="253" r="3.55" fill="#8e0088"/>
<circle cx="976.6" cy="239" r="3.55" fill="#9d007e"/>
<circle cx="958.2" cy="228.2" r="3.55" fill="#7d50ba"/>
<circle cx="921.1" cy="240" r="3.55" fill="#7d50b9"/>
<circle cx="911.8" cy="241.4" r="3.55" fill="#6570db"/>
<circle cx="969.8" cy="249" r="3.55" fill="#9c007f"/>
<circle cx="947.3" cy="234.6" r="3.55" fill="#8a1191"/>
<circle cx="1023.4" cy="239.6" r="3.55" fill="#cf004f"/>
<circle cx="929.4" cy="249.3" r="3.55" fill="#6a6bd6"/>
<circle cx="941.2" cy="255.7" r="3.55" fill="#8340ab"/>
<circle cx="972.8" cy="232.7" r="3.55" fill="#a20079"/>
<circle cx="962" cy="229.5" r="3.55" fill="#9e007d"/>
<circle cx="956.4" cy="264.4" r="3.55" fill="#8243ae"/>
<circle cx="947" cy="224.6" r="3.55" fill="#7a57c0"/>
<circle cx="950.6" cy="250.7" r="3.55" fill="#7d4eb8"/>
<circle cx="958.9" cy="249.3" r="3.55" fill="#8a1091"/>
<circle cx="906.9" cy="241.8" r="3.55" fill="#6d68d2"/>
<circle cx="967" cy="229.5" r="3.55" fill="#9c007f"/>
<circle cx="941.2" cy="245.9" r="3.55" fill="#8c008a"/>
<circle cx="984.6" cy="236.6" r="3.55" fill="#b2006a"/>
<circle cx="932.5" cy="254.6" r="3.55" fill="#7065ce"/>
<circle cx="909.4" cy="237" r="3.55" fill="#7c52bc"/>
<circle cx="941.7" cy="241.6" r="3.55" fill="#755dc7"/>
<circle cx="958.5" cy="238" r="3.55" fill="#8a0e90"/>
<circle cx="900.9" cy="242.1" r="3.55" fill="#8147b1"/>
<circle cx="958.5" cy="242.3" r="3.55" fill="#843da9"/>
<circle cx="953" cy="249.3" r="3.55" fill="#7d50ba"/>
<circle cx="938.4" cy="236.2" r="3.55" fill="#5d77e3"/>
<circle cx="932.5" cy="233.1" r="3.55" fill="#6e66d0"/>
<circle cx="897.9" cy="240.2" r="3.55" fill="#7163cd"/>
<circle cx="926.9" cy="240" r="3.55" fill="#6273de"/>
<circle cx="964.3" cy="234.6" r="3.55" fill="#950084"/>
<circle cx="941.7" cy="259.5" r="3.55" fill="#8341ac"/>
<circle cx="955.3" cy="233.6" r="3.55" fill="#8146b0"/>
<circle cx="988" cy="241.4" r="3.55" fill="#ac006f"/>
<circle cx="973.3" cy="247.1" r="3.55" fill="#a40078"/>
<circle cx="973.2" cy="243.5" r="3.55" fill="#9f007c"/>
<circle cx="917.7" cy="241.4" r="3.55" fill="#8147b1"/>
<circle cx="921.5" cy="232.8" r="3.55" fill="#6c69d3"/>
<circle cx="1222.9" cy="239.6" r="3.55" fill="#ff0000"/>
<circle cx="955.5" cy="254.2" r="3.55" fill="#7361ca"/>
<circle cx="926.5" cy="236.3" r="3.55" fill="#6174df"/>
<circle cx="914.9" cy="239.7" r="3.55" fill="#8147b1"/>
<circle cx="964.4" cy="245.2" r="3.55" fill="#920086"/>
<circle cx="935.5" cy="245.1" r="3.55" fill="#527eea"/>
<circle cx="933.1" cy="240.5" r="3.55" fill="#6e66d0"/>
<circle cx="923.7" cy="231.4" r="3.55" fill="#6174df"/>
<circle cx="958.6" cy="245.9" r="3.55" fill="#7064ce"/>
<circle cx="952.6" cy="217.1" r="3.55" fill="#765cc5"/>
<circle cx="985" cy="239.9" r="3.55" fill="#ae006e"/>
<circle cx="938.6" cy="246.7" r="3.55" fill="#6e67d1"/>
<circle cx="955.8" cy="258.1" r="3.55" fill="#7262cb"/>
<circle cx="991.1" cy="243.7" r="3.55" fill="#ae006e"/>
<circle cx="932.3" cy="244.2" r="3.55" fill="#6b6ad5"/>
<circle cx="947" cy="262.8" r="3.55" fill="#7859c2"/>
<circle cx="947.4" cy="220.6" r="3.55" fill="#9b007f"/>
<circle cx="912.8" cy="245" r="3.55" fill="#676ed9"/>
<circle cx="946.7" cy="252.3" r="3.55" fill="#7b53bd"/>
<circle cx="955.7" cy="243.2" r="3.55" fill="#1e90ff"/>
<circle cx="982.5" cy="245.2" r="3.55" fill="#1e90ff"/>
<circle cx="977.4" cy="371.5" r="3.55" fill="#891d96"/>
<circle cx="957" cy="376" r="3.55" fill="#a2007a"/>
<circle cx="962.8" cy="373.2" r="3.55" fill="#8d008a"/>
<circle cx="989" cy="370.6" r="3.55" fill="#892498"/>
<circle cx="948.6" cy="374.1" r="3.55" fill="#a2007a"/>
<circle cx="962.4" cy="355.6" r="3.55" fill="#8a1794"/>
<circle cx="969.3" cy="372.8" r="3.55" fill="#f70016"/>
<circle cx="948.1" cy="370.7" r="3.55" fill="#fa000d"/>
<circle cx="969.2" cy="366.3" r="3.55" fill="#892197"/>
<circle cx="983.7" cy="371" r="3.55" fill="#8b028c"/>
<circle cx="951.7" cy="358.7" r="3.55" fill="#c40059"/>
<circle cx="966.1" cy="364.4" r="3.55" fill="#8a1a95"/>
<circle cx="968.4" cy="376.6" r="3.55" fill="#8c008a"/>
<circle cx="968.4" cy="369.6" r="3.55" fill="#ab0071"/>
<circle cx="883.8" cy="371.6" r="3.55" fill="#d1004c"/>
<circle cx="965.6" cy="360.1" r="3.55" fill="#8a0f90"/>
<circle cx="951.2" cy="361.8" r="3.55" fill="#a60076"/>
<circle cx="939.2" cy="369.5" r="3.55" fill="#ed0028"/>
<circle cx="954.2" cy="363.9" r="3.55" fill="#db0040"/>
<circle cx="960.5" cy="374.4" r="3.55" fill="#8f0088"/>
<circle cx="936.6" cy="360.2" r="3.55" fill="#e20038"/>
<circle cx="939.9" cy="358.6" r="3.55" fill="#da0042"/>
<circle cx="1100.6" cy="371.2" r="3.55" fill="#7163cd"/>
<circle cx="946" cy="358.9" r="3.55" fill="#fd0005"/>
<circle cx="986.1" cy="372.8" r="3.55" fill="#8a1894"/>
<circle cx="945.1" cy="379.8" r="3.55" fill="#e0003b"/>
<circle cx="963.1" cy="358.6" r="3.55" fill="#a2007a"/>
<circle cx="962.9" cy="376.1" r="3.55" fill="#a40077"/>
<circle cx="980.6" cy="369.7" r="3.55" fill="#892197"/>
<circle cx="977.8" cy="374.5" r="3.55" fill="#8a1a94"/>
<circle cx="953.7" cy="381.9" r="3.55" fill="#ed0029"/>
<circle cx="974" cy="369.1" r="3.55" fill="#8e0089"/>
<circle cx="943.2" cy="378.5" r="3.55" fill="#ae006e"/>
<circle cx="965.4" cy="367.7" r="3.55" fill="#8a1091"/>
<circle cx="956.7" cy="373.1" r="3.55" fill="#920086"/>
<circle cx="925.1" cy="371.2" r="3.55" fill="#c70057"/>
<circle cx="950.9" cy="376.6" r="3.55" fill="#d60047"/>
<circle cx="948.5" cy="360.2" r="3.55" fill="#ff0000"/>
<circle cx="965.7" cy="378.1" r="3.55" fill="#f5001a"/>
<circle cx="954.1" cy="392.4" r="3.55" fill="#89289b"/>
<circle cx="945.9" cy="372.9" r="3.55" fill="#cb0052"/>
<circle cx="933.8" cy="365.2" r="3.55" fill="#e20038"/>
<circle cx="951" cy="355.1" r="3.55" fill="#f4001f"/>
<circle cx="1008.9" cy="370" r="3.55" fill="#882b9c"/>
<circle cx="1358.5" cy="371.7" r="3.55" fill="#2b8cfa"/>
<circle cx="959.9" cy="377.9" r="3.55" fill="#c80056"/>
<circle cx="957.1" cy="382.7" r="3.55" fill="#df003c"/>
<circle cx="951.3" cy="369.4" r="3.55" fill="#da0042"/>
<circle cx="945.6" cy="354.8" r="3.55" fill="#fb000b"/>
<circle cx="1385.1" cy="370.9" r="3.55" fill="#3a87f5"/>
<circle cx="939.7" cy="379.4" r="3.55" fill="#f20021"/>
<circle cx="948.1" cy="367.8" r="3.55" fill="#f60017"/>
<circle cx="965.6" cy="370.5" r="3.55" fill="#892298"/>
<circle cx="946" cy="386.6" r="3.55" fill="#891e96"/>
<circle cx="948.9" cy="364" r="3.55" fill="#892097"/>
<circle cx="930.9" cy="367.6" r="3.55" fill="#cc0052"/>
<circle cx="954.1" cy="367.2" r="3.55" fill="#dc003f"/>
<circle cx="954" cy="360.6" r="3.55" fill="#f5001b"/>
<circle cx="959.7" cy="381.9" r="3.55" fill="#c50059"/>
<circle cx="951.7" cy="352" r="3.55" fill="#ef0026"/>
<circle cx="959.9" cy="368" r="3.55" fill="#910087"/>
<circle cx="930.7" cy="374.9" r="3.55" fill="#f4001c"/>
<circle cx="951" cy="383.1" r="3.55" fill="#8a0a8f"/>
<circle cx="954.2" cy="370.5" r="3.55" fill="#e0003b"/>
<circle cx="971.9" cy="374" r="3.55" fill="#8a0d90"/>
<circle cx="995.1" cy="370.6" r="3.55" fill="#88299b"/>
<circle cx="956.9" cy="362" r="3.55" fill="#8b058d"/>
<circle cx="922.7" cy="369.1" r="3.55" fill="#c80056"/>
<circle cx="948" cy="378.1" r="3.55" fill="#ee0027"/>
<circle cx="936.9" cy="363.9" r="3.55" fill="#fa000f"/>
<circle cx="951.8" cy="386.5" r="3.55" fill="#a70074"/>
<circle cx="945.8" cy="383.5" r="3.55" fill="#df003c"/>
<circle cx="965.9" cy="374.6" r="3.55" fill="#ab0071"/>
<circle cx="951.8" cy="389.8" r="3.55" fill="#892398"/>
<circle cx="925.2" cy="367.4" r="3.55" fill="#e40035"/>
<circle cx="942.1" cy="374.3" r="3.55" fill="#8a0f91"/>
<circle cx="954" cy="353.7" r="3.55" fill="#8a1292"/>
<circle cx="1314.8" cy="370.8" r="3.55" fill="#567be7"/>
<circle cx="939.7" cy="383.4" r="3.55" fill="#e0003a"/>
<circle cx="919.8" cy="367.5" r="3.55" fill="#c70057"/>
<circle cx="927.8" cy="373" r="3.55" fill="#de003d"/>
<circle cx="956.8" cy="390.3" r="3.55" fill="#d90043"/>
<circle cx="954.1" cy="384.6" r="3.55" fill="#ef0026"/>
<circle cx="925.2" cy="374" r="3.55" fill="#d90043"/>
<circle cx="954.3" cy="377.7" r="3.55" fill="#e9002f"/>
<circle cx="937" cy="375" r="3.55" fill="#d40049"/>
<circle cx="910.5" cy="372.3" r="3.55" fill="#fb000b"/>
<circle cx="942.3" cy="360.8" r="3.55" fill="#ed0029"/>
<circle cx="942.9" cy="370.9" r="3.55" fill="#8d008a"/>
<circle cx="948.2" cy="385.1" r="3.55" fill="#ff0001"/>
<circle cx="971.5" cy="370.7" r="3.55" fill="#8b008b"/>
<circle cx="942.1" cy="363.9" r="3.55" fill="#8f0088"/>
<circle cx="916.7" cy="369.1" r="3.55" fill="#e9002e"/>
<circle cx="948.8" cy="381.5" r="3.55" fill="#8b088e"/>
<circle cx="945.4" cy="362.2" r="3.55" fill="#d80045"/>
<circle cx="977" cy="367.1" r="3.55" fill="#8a1894"/>
<circle cx="936.5" cy="378.5" r="3.55" fill="#e70032"/>
<circle cx="940.1" cy="365.3" r="3.55" fill="#a80074"/>
<circle cx="959.8" cy="371.5" r="3.55" fill="#ea002e"/>
<circle cx="959.8" cy="388.5" r="3.55" fill="#8b028c"/>
<circle cx="957.3" cy="369.2" r="3.55" fill="#8a1191"/>
<circle cx="957.2" cy="352.1" r="3.55" fill="#a50076"/>
<circle cx="962.6" cy="380" r="3.55" fill="#8a1292"/>
<circle cx="956.7" cy="355.5" r="3.55" fill="#d80044"/>
<circle cx="948.2" cy="354" r="3.55" fill="#dc0040"/>
<circle cx="957.2" cy="386.8" r="3.55" fill="#f4001f"/>
<circle cx="954.7" cy="350.4" r="3.55" fill="#be005f"/>
<circle cx="1404" cy="371.3" r="3.55" fill="#2d8bfa"/>
<circle cx="962.6" cy="368.9" r="3.55" fill="#f00024"/>
<circle cx="968.3" cy="379.9" r="3.55" fill="#f20021"/>
<circle cx="928.2" cy="368.7" r="3.55" fill="#e8002f"/>
<circle cx="942.6" cy="381" r="3.55" fill="#8a1894"/>
<circle cx="942.4" cy="356.7" r="3.55" fill="#a20079"/>
<circle cx="916.7" cy="372.3" r="3.55" fill="#c3005a"/>
<circle cx="942.8" cy="367.7" r="3.55" fill="#ec002b"/>
<circle cx="960.1" cy="357.4" r="3.55" fill="#eb002c"/>
<circle cx="939.8" cy="375.9" r="3.55" fill="#ed0029"/>
<circle cx="957" cy="365.8" r="3.55" fill="#930085"/>
<circle cx="962.9" cy="366.1" r="3.55" fill="#ee0027"/>
<circle cx="931.6" cy="371.2" r="3.55" fill="#e80030"/>
<circle cx="1146.6" cy="370.2" r="3.55" fill="#7361ca"/>
<circle cx="937.3" cy="381.6" r="3.55" fill="#f5001c"/>
<circle cx="945" cy="376.3" r="3.55" fill="#c3005b"/>
<circle cx="980.3" cy="373" r="3.55" fill="#8a0b8f"/>
<circle cx="963.4" cy="361.8" r="3.55" fill="#892599"/>
<circle cx="986.3" cy="368.8" r="3.55" fill="#8b098e"/>
<circle cx="934.3" cy="372.8" r="3.55" fill="#fc0008"/>
<circle cx="927.9" cy="376" r="3.55" fill="#dc0040"/>
<circle cx="960.2" cy="364.4" r="3.55" fill="#ab0071"/>
<circle cx="939.4" cy="361.9" r="3.55" fill="#fd0007"/>
<circle cx="922" cy="372.4" r="3.55" fill="#c90055"/>
<circle cx="930.9" cy="364.2" r="3.55" fill="#e50035"/>
<circle cx="919.3" cy="371.4" r="3.55" fill="#d80044"/>
<circle cx="974.9" cy="373" r="3.55" fill="#8a1693"/>
<circle cx="945.2" cy="366.1" r="3.55" fill="#d70046"/>
<circle cx="957.4" cy="380" r="3.55" fill="#f4001d"/>
<circle cx="959.9" cy="384.6" r="3.55" fill="#e0003a"/>
<circle cx="956.7" cy="358.9" r="3.55" fill="#c80056"/>
<circle cx="1297.2" cy="371.1" r="3.55" fill="#557ce8"/>
<circle cx="945.8" cy="369.2" r="3.55" fill="#8b028c"/>
<circle cx="936.6" cy="370.7" r="3.55" fill="#fb000b"/>
<circle cx="928.3" cy="365.8" r="3.55" fill="#d90042"/>
<circle cx="930.9" cy="378" r="3.55" fill="#d1004c"/>
<circle cx="934.2" cy="361.7" r="3.55" fill="#ea002d"/>
<circle cx="913.4" cy="370.9" r="3.55" fill="#c80055"/>
<circle cx="943.1" cy="384.6" r="3.55" fill="#c80056"/>
<circle cx="954.4" cy="357.4" r="3.55" fill="#8a1191"/>
<circle cx="963.4" cy="382.8" r="3.55" fill="#8b078d"/>
<circle cx="939.9" cy="372.9" r="3.55" fill="#df003b"/>
<circle cx="951" cy="365.9" r="3.55" fill="#8a1392"/>
<circle cx="951.6" cy="380.1" r="3.55" fill="#891f96"/>
<circle cx="951.7" cy="372.7" r="3.55" fill="#892197"/>
<circle cx="948.6" cy="388.7" r="3.55" fill="#8a1191"/>
<circle cx="954.7" cy="388.6" r="3.55" fill="#c80056"/>
<circle cx="1070.7" cy="371" r="3.55" fill="#775cc5"/>
<circle cx="934.3" cy="379.4" r="3.55" fill="#e30037"/>
<circle cx="948.1" cy="356.6" r="3.55" fill="#e80030"/>
<circle cx="1335.3" cy="371.5" r="3.55" fill="#507feb"/>
<circle cx="933.5" cy="376.5" r="3.55" fill="#c80056"/>
<circle cx="954" cy="374.7" r="3.55" fill="#c60057"/>
<circle cx="966.1" cy="381" r="3.55" fill="#900087"/>
<circle cx="971.2" cy="367.4" r="3.55" fill="#891d96"/>
<circle cx="934.2" cy="369.5" r="3.55" fill="#fc0008"/>
<circle cx="1024" cy="371.1" r="3.55" fill="#8730a0"/>
<circle cx="936.6" cy="367.4" r="3.55" fill="#d2004b"/>
<circle cx="960.5" cy="360.1" r="3.55" fill="#8b018b"/>
<circle cx="902.1" cy="501.7" r="3.55" fill="#1f8efc"/>
<circle cx="903.9" cy="501" r="3.55" fill="#1f8efc"/>
<circle cx="905.5" cy="501.7" r="3.55" fill="#1f8efc"/>
<circle cx="906.9" cy="501.1" r="3.55" fill="#1f8efc"/>
<circle cx="907.2" cy="502.8" r="3.55" fill="#1f8efc"/>
<circle cx="908.7" cy="501.7" r="3.55" fill="#1f8efc"/>
<circle cx="910.5" cy="501" r="3.55" fill="#1f8efc"/>
<circle cx="910.3" cy="503.2" r="3.55" fill="#1f8efc"/>
<circle cx="912.2" cy="501.7" r="3.55" fill="#1f8efc"/>
<circle cx="913.5" cy="500.7" r="3.55" fill="#1f8efc"/>
<circle cx="913.7" cy="502.7" r="3.55" fill="#1f8efc"/>
<circle cx="914.9" cy="499.7" r="3.55" fill="#1f8efc"/>
<circle cx="915.2" cy="502.1" r="3.55" fill="#1f8efc"/>
<circle cx="914.9" cy="503.9" r="3.55" fill="#1f8efc"/>
<circle cx="917" cy="500.6" r="3.55" fill="#1f8efc"/>
<circle cx="916.5" cy="502.9" r="3.55" fill="#1f8efc"/>
<circle cx="918.6" cy="500" r="3.55" fill="#1f8efc"/>
<circle cx="918.2" cy="501.6" r="3.55" fill="#1f8efc"/>
<circle cx="918.6" cy="504.1" r="3.55" fill="#1f8efc"/>
<circle cx="920.1" cy="498.3" r="3.55" fill="#1f8efc"/>
<circle cx="919.9" cy="500.9" r="3.55" fill="#1f8efc"/>
<circle cx="920.1" cy="503.1" r="3.55" fill="#1f8efc"/>
<circle cx="919.8" cy="505.5" r="3.55" fill="#1f8efc"/>
<circle cx="921.4" cy="499.4" r="3.55" fill="#1f8efc"/>
<circle cx="921.3" cy="501.8" r="3.55" fill="#1f8efc"/>
<circle cx="921.5" cy="503.8" r="3.55" fill="#1f8efc"/>
<circle cx="923.4" cy="498.7" r="3.55" fill="#1f8efc"/>
<circle cx="923.2" cy="500.9" r="3.55" fill="#1f8efc"/>
<circle cx="923.4" cy="502.8" r="3.55" fill="#1f8efc"/>
<circle cx="923.3" cy="505.1" r="3.55" fill="#1f8efc"/>
<circle cx="924.9" cy="497.2" r="3.55" fill="#1f8efc"/>
<circle cx="924.6" cy="499.6" r="3.55" fill="#1f8efc"/>
<circle cx="924.9" cy="502.2" r="3.55" fill="#1f8efc"/>
<circle cx="924.5" cy="503.9" r="3.55" fill="#1f8efc"/>
<circle cx="925" cy="506.6" r="3.55" fill="#1f8efc"/>
<circle cx="926.5" cy="498.7" r="3.55" fill="#1f8efc"/>
<circle cx="926.3" cy="500.8" r="3.55" fill="#1f8efc"/>
<circle cx="926.2" cy="503.3" r="3.55" fill="#1f8efc"/>
<circle cx="926.4" cy="504.9" r="3.55" fill="#1f8efc"/>
<circle cx="927.8" cy="497.5" r="3.55" fill="#1f8efc"/>
<circle cx="927.7" cy="499.8" r="3.55" fill="#1f8efc"/>
<circle cx="927.8" cy="501.8" r="3.55" fill="#1f8efc"/>
<circle cx="927.9" cy="504.1" r="3.55" fill="#1f8efc"/>
<circle cx="928.1" cy="506" r="3.55" fill="#1f8efc"/>
<circle cx="929.7" cy="496.5" r="3.55" fill="#1f8efc"/>
<circle cx="929.8" cy="498.8" r="3.55" fill="#1f8efc"/>
<circle cx="929.4" cy="500.7" r="3.55" fill="#1f8efc"/>
<circle cx="929.7" cy="502.7" r="3.55" fill="#1f8efc"/>
<circle cx="929.6" cy="505" r="3.55" fill="#1f8efc"/>
<circle cx="929.3" cy="507.4" r="3.55" fill="#1f8efc"/>
<circle cx="931" cy="495.4" r="3.55" fill="#1f8efc"/>
<circle cx="931" cy="497.4" r="3.55" fill="#1f8efc"/>
<circle cx="931.1" cy="499.8" r="3.55" fill="#1f8efc"/>
<circle cx="931.3" cy="501.8" r="3.55" fill="#1f8efc"/>
<circle cx="931.1" cy="504.4" r="3.55" fill="#1f8efc"/>
<circle cx="931.4" cy="506.4" r="3.55" fill="#1f8efc"/>
<circle cx="930.9" cy="508.5" r="3.55" fill="#1f8efc"/>
<circle cx="932.7" cy="494" r="3.55" fill="#1f8efc"/>
<circle cx="933" cy="496.1" r="3.55" fill="#1f8efc"/>
<circle cx="932.6" cy="498.8" r="3.55" fill="#1f8efc"/>
<circle cx="932.5" cy="500.6" r="3.55" fill="#1f8efc"/>
<circle cx="932.5" cy="502.8" r="3.55" fill="#1f8efc"/>
<circle cx="932.8" cy="505.4" r="3.55" fill="#1f8efc"/>
<circle cx="932.6" cy="507.2" r="3.55" fill="#1f8efc"/>
<circle cx="932.9" cy="509.6" r="3.55" fill="#1f8efc"/>
<circle cx="934.1" cy="492.9" r="3.55" fill="#1f8efc"/>
<circle cx="934.6" cy="495.1" r="3.55" fill="#1f8efc"/>
<circle cx="934.5" cy="497.4" r="3.55" fill="#1f8efc"/>
<circle cx="934.2" cy="499.6" r="3.55" fill="#1f8efc"/>
<circle cx="934.3" cy="502.2" r="3.55" fill="#1f8efc"/>
<circle cx="934.1" cy="504.3" r="3.55" fill="#1f8efc"/>
<circle cx="934.2" cy="506.1" r="3.55" fill="#1f8efc"/>
<circle cx="934.5" cy="508.4" r="3.55" fill="#1f8efc"/>
<circle cx="934.2" cy="510.7" r="3.55" fill="#1f8efc"/>
<circle cx="935.9" cy="491.9" r="3.55" fill="#1f8efc"/>
<circle cx="935.7" cy="494" r="3.55" fill="#1f8efc"/>
<circle cx="936.2" cy="496.3" r="3.55" fill="#1f8efc"/>
<circle cx="936" cy="498.8" r="3.55" fill="#1f8efc"/>
<circle cx="936.1" cy="500.6" r="3.55" fill="#1f8efc"/>
<circle cx="936.2" cy="503.2" r="3.55" fill="#1f8efc"/>
<circle cx="936.2" cy="505.3" r="3.55" fill="#1f8efc"/>
<circle cx="936.1" cy="507.6" r="3.55" fill="#1f8efc"/>
<circle cx="935.8" cy="509.7" r="3.55" fill="#1f8efc"/>
<circle cx="935.9" cy="512" r="3.55" fill="#1f8efc"/>
<circle cx="937.8" cy="490.9" r="3.55" fill="#1f8efc"/>
<circle cx="937.5" cy="493" r="3.55" fill="#1f8efc"/>
<circle cx="937.7" cy="495.5" r="3.55" fill="#1f8efc"/>
<circle cx="937.8" cy="497.3" r="3.55" fill="#1f8efc"/>
<circle cx="937.5" cy="499.5" r="3.55" fill="#1f8efc"/>
<circle cx="937.3" cy="501.8" r="3.55" fill="#1f8efc"/>
<circle cx="937.3" cy="504.3" r="3.55" fill="#1f8efc"/>
<circle cx="937.4" cy="506" r="3.55" fill="#1f8efc"/>
<circle cx="937.3" cy="508.6" r="3.55" fill="#1f8efc"/>
<circle cx="937.4" cy="510.7" r="3.55" fill="#1f8efc"/>
<circle cx="939.3" cy="492" r="3.55" fill="#1f8efc"/>
<circle cx="939.1" cy="494.1" r="3.55" fill="#1f8efc"/>
<circle cx="939.4" cy="496.5" r="3.55" fill="#1f8efc"/>
<circle cx="939" cy="498.5" r="3.55" fill="#1f8efc"/>
<circle cx="939.1" cy="501.1" r="3.55" fill="#1f8efc"/>
<circle cx="939.3" cy="502.8" r="3.55" fill="#1f8efc"/>
<circle cx="939.4" cy="504.9" r="3.55" fill="#1f8efc"/>
<circle cx="939.2" cy="507.4" r="3.55" fill="#1f8efc"/>
<circle cx="939.3" cy="509.6" r="3.55" fill="#1f8efc"/>
<circle cx="938.9" cy="511.8" r="3.55" fill="#1f8efc"/>
<circle cx="940.6" cy="490.8" r="3.55" fill="#1f8efc"/>
<circle cx="940.9" cy="492.9" r="3.55" fill="#1f8efc"/>
<circle cx="940.8" cy="495.3" r="3.55" fill="#1f8efc"/>
<circle cx="940.9" cy="497.3" r="3.55" fill="#1f8efc"/>
<circle cx="941" cy="500" r="3.55" fill="#1f8efc"/>
<circle cx="940.8" cy="502.1" r="3.55" fill="#1f8efc"/>
<circle cx="940.6" cy="504.3" r="3.55" fill="#1f8efc"/>
<circle cx="940.8" cy="506.5" r="3.55" fill="#1f8efc"/>
<circle cx="941" cy="508.4" r="3.55" fill="#1f8efc"/>
<circle cx="941" cy="510.5" r="3.55" fill="#1f8efc"/>
<circle cx="940.5" cy="512.9" r="3.55" fill="#1f8efc"/>
<circle cx="942.2" cy="489.8" r="3.55" fill="#1f8efc"/>
<circle cx="942.4" cy="492" r="3.55" fill="#1f8efc"/>
<circle cx="942.1" cy="493.9" r="3.55" fill="#1f8efc"/>
<circle cx="942.3" cy="496.5" r="3.55" fill="#1f8efc"/>
<circle cx="942.5" cy="498.4" r="3.55" fill="#1f8efc"/>
<circle cx="942.2" cy="500.8" r="3.55" fill="#1f8efc"/>
<circle cx="942.2" cy="503.1" r="3.55" fill="#1f8efc"/>
<circle cx="942.6" cy="505" r="3.55" fill="#1f8efc"/>
<circle cx="942.4" cy="507.5" r="3.55" fill="#1f8efc"/>
<circle cx="942.5" cy="509.7" r="3.55" fill="#1f8efc"/>
<circle cx="942.5" cy="511.7" r="3.55" fill="#1f8efc"/>
<circle cx="943.9" cy="491" r="3.55" fill="#1f8efc"/>
<circle cx="943.8" cy="492.9" r="3.55" fill="#1f8efc"/>
<circle cx="943.8" cy="495.1" r="3.55" fill="#1f8efc"/>
<circle cx="943.8" cy="497.4" r="3.55" fill="#1f8efc"/>
<circle cx="944" cy="499.5" r="3.55" fill="#1f8efc"/>
<circle cx="943.9" cy="501.9" r="3.55" fill="#1f8efc"/>
<circle cx="944.2" cy="504.1" r="3.55" fill="#1f8efc"/>
<circle cx="944.2" cy="506.3" r="3.55" fill="#1f8efc"/>
<circle cx="943.8" cy="508.6" r="3.55" fill="#1f8efc"/>
<circle cx="943.7" cy="510.5" r="3.55" fill="#1f8efc"/>
<circle cx="943.7" cy="513" r="3.55" fill="#1f8efc"/>
<circle cx="945.6" cy="490.1" r="3.55" fill="#1f8efc"/>
<circle cx="945.5" cy="492" r="3.55" fill="#1f8efc"/>
<circle cx="945.4" cy="494.2" r="3.55" fill="#1f8efc"/>
<circle cx="945.6" cy="496.5" r="3.55" fill="#1f8efc"/>
<circle cx="945.8" cy="498.4" r="3.55" fill="#1f8efc"/>
<circle cx="945.5" cy="501" r="3.55" fill="#1f8efc"/>
<circle cx="945.7" cy="503.1" r="3.55" fill="#1f8efc"/>
<circle cx="945.7" cy="505.1" r="3.55" fill="#1f8efc"/>
<circle cx="945.8" cy="507.4" r="3.55" fill="#1f8efc"/>
<circle cx="945.5" cy="509.4" r="3.55" fill="#1f8efc"/>
<circle cx="945.3" cy="512" r="3.55" fill="#1f8efc"/>
<circle cx="945.7" cy="513.7" r="3.55" fill="#1f8efc"/>
<circle cx="947" cy="490.8" r="3.55" fill="#1f8efc"/>
<circle cx="947.1" cy="493" r="3.55" fill="#1f8efc"/>
<circle cx="947.4" cy="495.3" r="3.55" fill="#1f8efc"/>
<circle cx="947" cy="497.4" r="3.55" fill="#1f8efc"/>
<circle cx="947.3" cy="499.5" r="3.55" fill="#1f8efc"/>
<circle cx="947.3" cy="501.6" r="3.55" fill="#1f8efc"/>
<circle cx="947" cy="503.8" r="3.55" fill="#1f8efc"/>
<circle cx="947.3" cy="506.1" r="3.55" fill="#1f8efc"/>
<circle cx="947" cy="508.2" r="3.55" fill="#1f8efc"/>
<circle cx="947" cy="510.8" r="3.55" fill="#1f8efc"/>
<circle cx="947.3" cy="513.1" r="3.55" fill="#1f8efc"/>
<circle cx="948.5" cy="490" r="3.55" fill="#1f8efc"/>
<circle cx="948.9" cy="492.1" r="3.55" fill="#1f8efc"/>
<circle cx="949" cy="493.9" r="3.55" fill="#1f8efc"/>
<circle cx="948.5" cy="496.2" r="3.55" fill="#1f8efc"/>
<circle cx="948.5" cy="498.7" r="3.55" fill="#1f8efc"/>
<circle cx="948.8" cy="500.6" r="3.55" fill="#1f8efc"/>
<circle cx="948.5" cy="502.8" r="3.55" fill="#1f8efc"/>
<circle cx="948.8" cy="505.3" r="3.55" fill="#1f8efc"/>
<circle cx="949" cy="507.3" r="3.55" fill="#1f8efc"/>
<circle cx="949" cy="509.6" r="3.55" fill="#1f8efc"/>
<circle cx="948.7" cy="511.7" r="3.55" fill="#1f8efc"/>
<circle cx="950.5" cy="490.9" r="3.55" fill="#1f8efc"/>
<circle cx="950.3" cy="493.3" r="3.55" fill="#1f8efc"/>
<circle cx="950.4" cy="495.2" r="3.55" fill="#1f8efc"/>
<circle cx="950.3" cy="497.8" r="3.55" fill="#1f8efc"/>
<circle cx="950.6" cy="499.9" r="3.55" fill="#1f8efc"/>
<circle cx="950.4" cy="501.7" r="3.55" fill="#1f8efc"/>
<circle cx="950.2" cy="504" r="3.55" fill="#1f8efc"/>
<circle cx="950.5" cy="506" r="3.55" fill="#1f8efc"/>
<circle cx="950.5" cy="508.7" r="3.55" fill="#1f8efc"/>
<circle cx="950.4" cy="510.4" r="3.55" fill="#1f8efc"/>
<circle cx="950.5" cy="512.8" r="3.55" fill="#1f8efc"/>
<circle cx="952.1" cy="492.2" r="3.55" fill="#1f8efc"/>
<circle cx="952.1" cy="494.5" r="3.55" fill="#1f8efc"/>
<circle cx="952.1" cy="496.3" r="3.55" fill="#1f8efc"/>
<circle cx="952.1" cy="498.5" r="3.55" fill="#1f8efc"/>
<circle cx="952" cy="500.6" r="3.55" fill="#1f8efc"/>
<circle cx="952.2" cy="503" r="3.55" fill="#1f8efc"/>
<circle cx="951.8" cy="505.5" r="3.55" fill="#1f8efc"/>
<circle cx="951.7" cy="507.7" r="3.55" fill="#1f8efc"/>
<circle cx="952.1" cy="509.4" r="3.55" fill="#1f8efc"/>
<circle cx="952.1" cy="511.8" r="3.55" fill="#1f8efc"/>
<circle cx="953.6" cy="492.9" r="3.55" fill="#1f8efc"/>
<circle cx="953.5" cy="495.4" r="3.55" fill="#1f8efc"/>
<circle cx="953.4" cy="497.6" r="3.55" fill="#1f8efc"/>
<circle cx="953.4" cy="499.6" r="3.55" fill="#1f8efc"/>
<circle cx="953.8" cy="502.2" r="3.55" fill="#1f8efc"/>
<circle cx="953.8" cy="504.1" r="3.55" fill="#1f8efc"/>
<circle cx="953.6" cy="506.5" r="3.55" fill="#1f8efc"/>
<circle cx="953.7" cy="508.5" r="3.55" fill="#1f8efc"/>
<circle cx="953.8" cy="510.6" r="3.55" fill="#1f8efc"/>
<circle cx="955.3" cy="496.1" r="3.55" fill="#1f8efc"/>
<circle cx="955.1" cy="498.4" r="3.55" fill="#1f8efc"/>
<circle cx="955.4" cy="501" r="3.55" fill="#1f8efc"/>
<circle cx="954.9" cy="503" r="3.55" fill="#1f8efc"/>
<circle cx="955.1" cy="505.3" r="3.55" fill="#1f8efc"/>
<circle cx="955.3" cy="507.3" r="3.55" fill="#1f8efc"/>
<circle cx="956.9" cy="497.6" r="3.55" fill="#1f8efc"/>
<circle cx="956.8" cy="499.9" r="3.55" fill="#1f8efc"/>
<circle cx="956.7" cy="501.7" r="3.55" fill="#1f8efc"/>
<circle cx="957" cy="504.3" r="3.55" fill="#1f8efc"/>
<circle cx="956.9" cy="506.4" r="3.55" fill="#1f8efc"/>
<circle cx="958.5" cy="500.9" r="3.55" fill="#1f8efc"/>
<circle cx="958.1" cy="503.2" r="3.55" fill="#1f8efc"/>
<circle cx="880" cy="501.9" r="3.55" fill="#1f8efc"/>
<circle cx="978.6" cy="633.5" r="3.55" fill="#1f8efc"/>
<circle cx="980.3" cy="632.8" r="3.55" fill="#1f8efc"/>
<circle cx="979.9" cy="633.6" r="3.55" fill="#1f8efc"/>
<circle cx="981.6" cy="632.4" r="3.55" fill="#1f8efc"/>
<circle cx="981.7" cy="633.4" r="3.55" fill="#1f8efc"/>
<circle cx="981.5" cy="634.7" r="3.55" fill="#1f8efc"/>
<circle cx="983.6" cy="631.4" r="3.55" fill="#1f8efc"/>
<circle cx="983.1" cy="632.5" r="3.55" fill="#1f8efc"/>
<circle cx="983.1" cy="634" r="3.55" fill="#1f8efc"/>
<circle cx="983.5" cy="634.9" r="3.55" fill="#1f8efc"/>
<circle cx="985.2" cy="632.1" r="3.55" fill="#1f8efc"/>
<circle cx="985" cy="633.6" r="3.55" fill="#1f8efc"/>
<circle cx="985" cy="634.3" r="3.55" fill="#1f8efc"/>
<circle cx="984.7" cy="635.4" r="3.55" fill="#1f8efc"/>
<circle cx="986.3" cy="631.7" r="3.55" fill="#1f8efc"/>
<circle cx="986.6" cy="632.5" r="3.55" fill="#1f8efc"/>
<circle cx="986.6" cy="633.6" r="3.55" fill="#1f8efc"/>
<circle cx="986.6" cy="635" r="3.55" fill="#1f8efc"/>
<circle cx="988" cy="631" r="3.55" fill="#1f8efc"/>
<circle cx="988" cy="632" r="3.55" fill="#1f8efc"/>
<circle cx="988.3" cy="633.3" r="3.55" fill="#1f8efc"/>
<circle cx="987.9" cy="634.2" r="3.55" fill="#1f8efc"/>
<circle cx="989.9" cy="631.5" r="3.55" fill="#1f8efc"/>
<circle cx="990" cy="632.4" r="3.55" fill="#1f8efc"/>
<circle cx="989.9" cy="634.1" r="3.55" fill="#1f8efc"/>
<circle cx="989.5" cy="635" r="3.55" fill="#1f8efc"/>
<circle cx="991.5" cy="631.8" r="3.55" fill="#1f8efc"/>
<circle cx="991.1" cy="633.2" r="3.55" fill="#1f8efc"/>
<circle cx="991.6" cy="634.8" r="3.55" fill="#1f8efc"/>
<circle cx="992.9" cy="632.8" r="3.55" fill="#1f8efc"/>
<circle cx="992.8" cy="633.9" r="3.55" fill="#1f8efc"/>
<circle cx="994.7" cy="632.2" r="3.55" fill="#1f8efc"/>
<circle cx="994.4" cy="633.1" r="3.55" fill="#1f8efc"/>
<circle cx="994.7" cy="634.6" r="3.55" fill="#1f8efc"/>
<circle cx="996.3" cy="632.7" r="3.55" fill="#1f8efc"/>
<circle cx="996.1" cy="633.8" r="3.55" fill="#1f8efc"/>
<circle cx="997.6" cy="632.3" r="3.55" fill="#1f8efc"/>
<circle cx="997.7" cy="633.1" r="3.55" fill="#1f8efc"/>
<circle cx="999.2" cy="632.5" r="3.55" fill="#1f8efc"/>
<circle cx="999.6" cy="634.1" r="3.55" fill="#1f8efc"/>
<circle cx="1001" cy="633.2" r="3.55" fill="#1f8efc"/>
<circle cx="1002.7" cy="632.7" r="3.55" fill="#1f8efc"/>
<circle cx="1002.8" cy="633.7" r="3.55" fill="#1f8efc"/>
<circle cx="1004.1" cy="633.4" r="3.55" fill="#1f8efc"/>
<circle cx="1005.8" cy="632.7" r="3.55" fill="#1f8efc"/>
<circle cx="1005.7" cy="633.7" r="3.55" fill="#1f8efc"/>
<circle cx="1007.2" cy="633.3" r="3.55" fill="#1f8efc"/>
<circle cx="1008.9" cy="633" r="3.55" fill="#1f8efc"/>
<circle cx="1009.1" cy="634" r="3.55" fill="#1f8efc"/>
<circle cx="1010.5" cy="633" r="3.55" fill="#1f8efc"/>
<circle cx="1012" cy="632.5" r="3.55" fill="#1f8efc"/>
<circle cx="1012.4" cy="633.9" r="3.55" fill="#1f8efc"/>
<circle cx="1013.8" cy="633" r="3.55" fill="#1f8efc"/>
<circle cx="1015.5" cy="632.5" r="3.55" fill="#1f8efc"/>
<circle cx="1015.2" cy="634" r="3.55" fill="#1f8efc"/>
<circle cx="1017.1" cy="633.6" r="3.55" fill="#1f8efc"/>
<circle cx="1018.8" cy="632.5" r="3.55" fill="#1f8efc"/>
<circle cx="1018.3" cy="634.1" r="3.55" fill="#1f8efc"/>
<circle cx="1019.9" cy="633.1" r="3.55" fill="#1f8efc"/>
<circle cx="1021.9" cy="633.8" r="3.55" fill="#1f8efc"/>
<circle cx="1023.4" cy="633.5" r="3.55" fill="#1f8efc"/>
<circle cx="1024.9" cy="632.6" r="3.55" fill="#1f8efc"/>
<circle cx="1025" cy="633.8" r="3.55" fill="#1f8efc"/>
<circle cx="1026.4" cy="633.6" r="3.55" fill="#1f8efc"/>
<circle cx="1027.9" cy="632.7" r="3.55" fill="#1f8efc"/>
<circle cx="1029.5" cy="633.1" r="3.55" fill="#1f8efc"/>
<circle cx="1031.1" cy="632.8" r="3.55" fill="#1f8efc"/>
<circle cx="1031.4" cy="634" r="3.55" fill="#1f8efc"/>
<circle cx="1032.8" cy="633.6" r="3.55" fill="#1f8efc"/>
<circle cx="1034.6" cy="633.7" r="3.55" fill="#1f8efc"/>
<circle cx="1036.1" cy="633.5" r="3.55" fill="#1f8efc"/>
<circle cx="1037.6" cy="632.6" r="3.55" fill="#1f8efc"/>
<circle cx="1037.5" cy="633.7" r="3.55" fill="#1f8efc"/>
<circle cx="1039.5" cy="633.3" r="3.55" fill="#1f8efc"/>
<circle cx="1041.1" cy="633.9" r="3.55" fill="#1f8efc"/>
<circle cx="1042.4" cy="633.1" r="3.55" fill="#1f8efc"/>
<circle cx="1044.1" cy="633.8" r="3.55" fill="#1f8efc"/>
<circle cx="1046" cy="633.4" r="3.55" fill="#1f8efc"/>
<circle cx="1047.4" cy="632.9" r="3.55" fill="#1f8efc"/>
<circle cx="1048.7" cy="633.3" r="3.55" fill="#1f8efc"/>
<circle cx="1056.4" cy="633.2" r="3.55" fill="#1f8efc"/>
<circle cx="1060.6" cy="633.6" r="3.55" fill="#1f8efc"/>
<circle cx="1072.6" cy="632.9" r="3.55" fill="#1f8efc"/>
<circle cx="1092.2" cy="633.5" r="3.55" fill="#1f8efc"/>
<circle cx="1097.7" cy="632.9" r="3.55" fill="#1f8efc"/>
</g>
<line x1="963.4" x2="963.4" y1="477.5" y2="526.9" stroke="#ee0202" stroke-width="7.8" stroke-linecap="round"/>
<line x1="963.4" x2="963.4" y1="608.9" y2="658.3" stroke="#ee0202" stroke-width="7.8" stroke-linecap="round"/>
<line x1="963.6" x2="963.6" y1="30.6" y2="710.8" stroke="#000" stroke-width="1.7"/>
<line x1="963.6" x2="963.6" y1="475.9" y2="528.5" stroke="#5c0000" stroke-width="1.9"/>
<line x1="963.6" x2="963.6" y1="607.3" y2="659.9" stroke="#5c0000" stroke-width="1.9"/>
<text class="se" x="963.6" y="730.1" font-size="15.8" text-anchor="middle" fill="#2a2a2a">0.0</text>
<text class="se" x="1107.4" y="730.1" font-size="15.8" text-anchor="middle" fill="#2a2a2a">0.2</text>
<text class="se" x="1250.8" y="730.1" font-size="15.8" text-anchor="middle" fill="#2a2a2a">0.4</text>
<text class="se" x="1394.3" y="730.1" font-size="15.8" text-anchor="middle" fill="#2a2a2a">0.6</text>
<text class="se" x="1136.8" y="749.8" font-size="16.6" text-anchor="middle" fill="#111">SHAP value</text>
<defs><linearGradient id="cb" x1="0" y1="1" x2="0" y2="0">
<stop offset="0%" stop-color="#ff0000"/>
<stop offset="6.2%" stop-color="#f30020"/>
<stop offset="12.5%" stop-color="#e60033"/>
<stop offset="18.8%" stop-color="#d90043"/>
<stop offset="25%" stop-color="#cc0052"/>
<stop offset="31.2%" stop-color="#bd0060"/>
<stop offset="37.5%" stop-color="#ae006e"/>
<stop offset="43.8%" stop-color="#9e007d"/>
<stop offset="50%" stop-color="#8b008b"/>
<stop offset="56.2%" stop-color="#892699"/>
<stop offset="62.5%" stop-color="#853ba7"/>
<stop offset="68.8%" stop-color="#7f4bb5"/>
<stop offset="75%" stop-color="#785ac3"/>
<stop offset="81.2%" stop-color="#6d68d2"/>
<stop offset="87.5%" stop-color="#5f76e1"/>
<stop offset="93.8%" stop-color="#4983f0"/>
<stop offset="100%" stop-color="#1e90ff"/>
</linearGradient></defs>
<rect x="1455.7" y="316.9" width="10.6" height="108.1" fill="url(#cb)"/>
<text class="se" x="1475" y="321" font-size="13.4" fill="#111">High</text>
<text class="se" x="1475" y="430.1" font-size="13.4" fill="#111">Low</text>
<text class="se" font-size="16.5" fill="#111" text-anchor="middle" transform="translate(1511.2 371) rotate(90)">Feature value</text>
</g>
<g id="panelC">
<text class="sa" x="17.6" y="783" font-size="34.2" fill="#111">C</text>
<line x1="734.5" x2="734.5" y1="787.5" y2="2448.8" stroke="#c8c8c8" stroke-width="0.85" stroke-dasharray="2.7 1.2"/>
<line x1="431.2" x2="431.2" y1="2394.5" y2="2448.8" stroke="#c8c8c8" stroke-width="0.85" stroke-dasharray="2.7 1.2"/>
<g stroke="#e1e1e1" stroke-width="1.2" stroke-dasharray="1.5 2.99">
<line x1="254.5" x2="802.8" y1="883.7" y2="883.7"/>
<line x1="254.5" x2="802.8" y1="934.4" y2="934.4"/>
<line x1="254.5" x2="802.8" y1="985" y2="985"/>
<line x1="254.5" x2="802.8" y1="1035.7" y2="1035.7"/>
<line x1="254.5" x2="802.8" y1="1086.3" y2="1086.3"/>
<line x1="254.5" x2="802.8" y1="1137" y2="1137"/>
<line x1="254.5" x2="802.8" y1="1187.7" y2="1187.7"/>
<line x1="254.5" x2="802.8" y1="1238.3" y2="1238.3"/>
<line x1="254.5" x2="802.8" y1="1289" y2="1289"/>
<line x1="254.5" x2="802.8" y1="1339.6" y2="1339.6"/>
<line x1="254.5" x2="802.8" y1="1390.3" y2="1390.3"/>
<line x1="254.5" x2="802.8" y1="1441" y2="1441"/>
<line x1="254.5" x2="802.8" y1="1491.6" y2="1491.6"/>
<line x1="254.5" x2="802.8" y1="1542.3" y2="1542.3"/>
<line x1="254.5" x2="802.8" y1="1592.9" y2="1592.9"/>
<line x1="254.5" x2="802.8" y1="1643.6" y2="1643.6"/>
<line x1="254.5" x2="802.8" y1="1694.3" y2="1694.3"/>
<line x1="254.5" x2="802.8" y1="1744.9" y2="1744.9"/>
<line x1="254.5" x2="802.8" y1="1795.6" y2="1795.6"/>
<line x1="254.5" x2="802.8" y1="1846.2" y2="1846.2"/>
<line x1="254.5" x2="802.8" y1="1896.9" y2="1896.9"/>
<line x1="254.5" x2="802.8" y1="1947.6" y2="1947.6"/>
<line x1="254.5" x2="802.8" y1="1998.2" y2="1998.2"/>
<line x1="254.5" x2="802.8" y1="2048.9" y2="2048.9"/>
<line x1="254.5" x2="802.8" y1="2099.5" y2="2099.5"/>
<line x1="254.5" x2="802.8" y1="2150.2" y2="2150.2"/>
<line x1="254.5" x2="802.8" y1="2200.9" y2="2200.9"/>
<line x1="254.5" x2="802.8" y1="2251.5" y2="2251.5"/>
<line x1="254.5" x2="802.8" y1="2302.2" y2="2302.2"/>
<line x1="254.5" x2="802.8" y1="2352.8" y2="2352.8"/>
</g>
<g stroke="#d4cfcf" stroke-width="0.8" stroke-dasharray="2.7 1.2">
<line x1="562" x2="562" y1="862.9" y2="955.2"/>
<line x1="437.9" x2="437.9" y1="913.6" y2="1005.8"/>
<line x1="324.7" x2="324.7" y1="964.2" y2="1056.5"/>
<line x1="430.3" x2="430.3" y1="1014.9" y2="1107.1"/>
<line x1="528.7" x2="528.7" y1="1065.5" y2="1157.8"/>
<line x1="433.3" x2="433.3" y1="1116.2" y2="1208.5"/>
<line x1="498.1" x2="498.1" y1="1166.9" y2="1259.1"/>
<line x1="436.3" x2="436.3" y1="1217.5" y2="1309.8"/>
<line x1="492.2" x2="492.2" y1="1268.2" y2="1360.4"/>
<line x1="442.7" x2="442.7" y1="1318.8" y2="1411.1"/>
<line x1="399.2" x2="399.2" y1="1369.5" y2="1461.8"/>
<line x1="442.9" x2="442.9" y1="1420.2" y2="1512.4"/>
<line x1="410.2" x2="410.2" y1="1470.8" y2="1563.1"/>
<line x1="442.1" x2="442.1" y1="1521.5" y2="1613.7"/>
<line x1="411.2" x2="411.2" y1="1572.1" y2="1664.4"/>
<line x1="441.9" x2="441.9" y1="1622.8" y2="1715.1"/>
<line x1="470" x2="470" y1="1673.5" y2="1765.7"/>
<line x1="443.7" x2="443.7" y1="1724.1" y2="1816.4"/>
<line x1="418.8" x2="418.8" y1="1774.8" y2="1867"/>
<line x1="443.1" x2="443.1" y1="1825.4" y2="1917.7"/>
<line x1="464.9" x2="464.9" y1="1876.1" y2="1968.4"/>
<line x1="442.8" x2="442.8" y1="1926.8" y2="2019"/>
<line x1="464.5" x2="464.5" y1="1977.4" y2="2069.7"/>
<line x1="445.3" x2="445.3" y1="2028.1" y2="2120.3"/>
<line x1="428.3" x2="428.3" y1="2078.7" y2="2171"/>
<line x1="443.7" x2="443.7" y1="2129.4" y2="2221.7"/>
<line x1="430.1" x2="430.1" y1="2180.1" y2="2272.3"/>
<line x1="442.9" x2="442.9" y1="2230.7" y2="2323"/>
<line x1="451.9" x2="451.9" y1="2281.4" y2="2373.6"/>
</g>
<polygon points="562,862.9 728.7,862.9 735.3,883.7 728.7,904.5 562,904.5" fill="#ff0051"/>
<text class="se" x="648.6" y="888.5" font-size="17.8" text-anchor="middle" fill="#fff">+0.37</text>
<text class="se" x="245" y="890.7" font-size="19.3" text-anchor="end"><tspan fill="#a2a2a2">1.475 = </tspan>BUN</text>
<polygon points="437.9,913.6 557.1,913.6 563.7,934.4 557.1,955.2 437.9,955.2" fill="#ff0051"/>
<text class="se" x="500.8" y="939.2" font-size="17.8" text-anchor="middle" fill="#fff">+0.27</text>
<text class="se" x="245" y="941.4" font-size="19.3" text-anchor="end"><tspan fill="#a2a2a2">1.137 = </tspan>APACHE II</text>
<polygon points="324.7,964.2 432.7,964.2 439.3,985 432.7,1005.8 324.7,1005.8" fill="#ff0051"/>
<text class="se" x="382" y="989.8" font-size="17.8" text-anchor="middle" fill="#fff">+0.25</text>
<text class="se" x="245" y="992" font-size="19.3" text-anchor="end"><tspan fill="#a2a2a2">−0.991 = </tspan>Alb</text>
<polygon points="430.3,1014.9 331.3,1014.9 324.7,1035.7 331.3,1056.5 430.3,1056.5" fill="#008bfb"/>
<text class="se" x="377.5" y="1040.5" font-size="17.8" text-anchor="middle" fill="#fff">−0.23</text>
<text class="se" x="245" y="1042.7" font-size="19.3" text-anchor="end"><tspan fill="#a2a2a2">−0.523 = </tspan>CRRT</text>
<polygon points="528.7,1065.5 435.5,1065.5 428.9,1086.3 435.5,1107.1 528.7,1107.1" fill="#008bfb"/>
<text class="se" x="478.8" y="1091.1" font-size="17.8" text-anchor="middle" fill="#fff">−0.21</text>
<text class="se" x="245" y="1093.3" font-size="19.3" text-anchor="end"><tspan fill="#a2a2a2">−0.972 = </tspan>Peritoneal drainage</text>
<polygon points="433.3,1116.2 522.1,1116.2 528.7,1137 522.1,1157.8 433.3,1157.8" fill="#ff0051"/>
<text class="se" x="481" y="1141.8" font-size="17.8" text-anchor="middle" fill="#fff">+0.2</text>
<text class="se" x="245" y="1144" font-size="19.3" text-anchor="end"><tspan fill="#a2a2a2">1.885 = </tspan>Hypertension</text>
<polygon points="498.1,1166.9 439.9,1166.9 433.3,1187.7 439.9,1208.5 498.1,1208.5" fill="#008bfb"/>
<text class="se" x="465.7" y="1192.5" font-size="17.8" text-anchor="middle" fill="#fff">−0.14</text>
<text class="se" x="245" y="1194.7" font-size="19.3" text-anchor="end"><tspan fill="#a2a2a2">1.163 = </tspan>Sex</text>
<polygon points="436.3,1217.5 491.6,1217.5 498.2,1238.3 491.6,1259.1 436.3,1259.1" fill="#ff0051"/>
<text class="se" x="467.2" y="1243.1" font-size="17.8" text-anchor="middle" fill="#fff">+0.13</text>
<text class="se" x="245" y="1245.3" font-size="19.3" text-anchor="end"><tspan fill="#a2a2a2">−0.808 = </tspan>TC</text>
<polygon points="492.2,1268.2 442.9,1268.2 436.3,1289 442.9,1309.8 492.2,1309.8" fill="#008bfb"/>
<text class="se" x="464.2" y="1293.8" font-size="17.8" text-anchor="middle" fill="#fff">−0.12</text>
<text class="se" x="245" y="1296" font-size="19.3" text-anchor="end"><tspan fill="#a2a2a2">−0.69 = </tspan>VA</text>
<polygon points="442.7,1318.8 485.6,1318.8 492.2,1339.6 485.6,1360.4 442.7,1360.4" fill="#ff0051"/>
<text class="se" x="467.4" y="1344.4" font-size="17.8" text-anchor="middle" fill="#fff">+0.1</text>
<text class="se" x="245" y="1346.6" font-size="19.3" text-anchor="end"><tspan fill="#a2a2a2">0.942 = </tspan>CR</text>
<polygon points="399.2,1369.5 437.1,1369.5 443.7,1390.3 437.1,1411.1 399.2,1411.1" fill="#ff0051"/>
<text class="se" x="421.4" y="1395.1" font-size="17.8" text-anchor="middle" fill="#fff">+0.09</text>
<text class="se" x="240.6" y="1388" font-size="19.3" text-anchor="end" fill="#a2a2a2">0.781 =</text>
<text class="se" x="245" y="1408.4" font-size="19.3" text-anchor="end">D1 wbc</text>
<polygon points="442.9,1420.2 405.8,1420.2 399.2,1441 405.8,1461.8 442.9,1461.8" fill="#008bfb"/>
<text class="se" x="421" y="1445.8" font-size="17.8" text-anchor="middle" fill="#fff">−0.09</text>
<text class="se" x="245" y="1448" font-size="19.3" text-anchor="end"><tspan fill="#a2a2a2">−0.465 = </tspan>Sugical treatment</text>
<polygon points="410.2,1470.8 436.5,1470.8 443.1,1491.6 436.5,1512.4 410.2,1512.4" fill="#ff0051"/>
<text class="se" x="448.3" y="1496.4" font-size="17.8" fill="#e2114f">+0.07</text>
<text class="se" x="245" y="1498.6" font-size="19.3" text-anchor="end"><tspan fill="#a2a2a2">0.517 = </tspan>D-D</text>
<polygon points="442.1,1521.5 416.8,1521.5 410.2,1542.3 416.8,1563.1 442.1,1563.1" fill="#008bfb"/>
<text class="se" x="404.6" y="1547.1" font-size="17.8" text-anchor="end" fill="#1580e0">−0.07</text>
<text class="se" x="245" y="1549.3" font-size="19.3" text-anchor="end"><tspan fill="#a2a2a2">−0.489 = </tspan>AMY</text>
<polygon points="411.2,1572.1 435.5,1572.1 442.1,1592.9 435.5,1613.7 411.2,1613.7" fill="#ff0051"/>
<text class="se" x="447.3" y="1597.7" font-size="17.8" fill="#e2114f">+0.06</text>
<text class="se" x="245" y="1599.9" font-size="19.3" text-anchor="end"><tspan fill="#a2a2a2">1.211 = </tspan>Modified Marshall</text>
<polygon points="441.9,1622.8 417.8,1622.8 411.2,1643.6 417.8,1664.4 441.9,1664.4" fill="#008bfb"/>
<text class="se" x="405.6" y="1648.4" font-size="17.8" text-anchor="end" fill="#1580e0">−0.06</text>
<text class="se" x="245" y="1650.6" font-size="19.3" text-anchor="end"><tspan fill="#a2a2a2">−0.454 = </tspan>APTT</text>
<polygon points="470,1673.5 447.3,1673.5 440.7,1694.3 447.3,1715.1 470,1715.1" fill="#008bfb"/>
<text class="se" x="435.1" y="1699.1" font-size="17.8" text-anchor="end" fill="#1580e0">−0.06</text>
<text class="se" x="245" y="1701.3" font-size="19.3" text-anchor="end"><tspan fill="#a2a2a2">−0.911 = </tspan>Peritoneal drainage.1</text>
<polygon points="443.7,1724.1 463.7,1724.1 470.3,1744.9 463.7,1765.7 443.7,1765.7" fill="#ff0051"/>
<text class="se" x="475.5" y="1749.7" font-size="17.8" fill="#e2114f">+0.05</text>
<text class="se" x="245" y="1751.9" font-size="19.3" text-anchor="end"><tspan fill="#a2a2a2">−0.306 = </tspan>FIB</text>
<polygon points="418.8,1774.8 438.5,1774.8 445.1,1795.6 438.5,1816.4 418.8,1816.4" fill="#ff0051"/>
<text class="se" x="450.3" y="1800.4" font-size="17.8" fill="#e2114f">+0.05</text>
<text class="se" x="245" y="1802.6" font-size="19.3" text-anchor="end"><tspan fill="#a2a2a2">−0.479 = </tspan>TG</text>
<polygon points="443.1,1825.4 425.4,1825.4 418.8,1846.2 425.4,1867 443.1,1867" fill="#008bfb"/>
<text class="se" x="413.2" y="1851" font-size="17.8" text-anchor="end" fill="#1580e0">−0.05</text>
<text class="se" x="245" y="1853.2" font-size="19.3" text-anchor="end"><tspan fill="#a2a2a2">0.821 = </tspan>Age</text>
<polygon points="464.9,1876.1 448.3,1876.1 441.7,1896.9 448.3,1917.7 464.9,1917.7" fill="#008bfb"/>
<text class="se" x="436.1" y="1901.7" font-size="17.8" text-anchor="end" fill="#1580e0">−0.05</text>
<text class="se" x="245" y="1903.9" font-size="19.3" text-anchor="end"><tspan fill="#a2a2a2">−0.516 = </tspan>IMV</text>
<polygon points="442.8,1926.8 458.6,1926.8 465.2,1947.6 458.6,1968.4 442.8,1968.4" fill="#ff0051"/>
<text class="se" x="470.4" y="1952.4" font-size="17.8" fill="#e2114f">+0.05</text>
<text class="se" x="245" y="1954.6" font-size="19.3" text-anchor="end"><tspan fill="#a2a2a2">−0.523 = </tspan>DM</text>
<polygon points="464.5,1977.4 449.3,1977.4 442.7,1998.2 449.3,2019 464.5,2019" fill="#008bfb"/>
<text class="se" x="437.1" y="2003" font-size="17.8" text-anchor="end" fill="#1580e0">−0.04</text>
<text class="se" x="245" y="2005.2" font-size="19.3" text-anchor="end"><tspan fill="#a2a2a2">−0.61 = </tspan>TB</text>
<polygon points="445.3,2028.1 458.1,2028.1 464.7,2048.9 458.1,2069.7 445.3,2069.7" fill="#ff0051"/>
<text class="se" x="469.9" y="2053.7" font-size="17.8" fill="#e2114f">+0.04</text>
<text class="se" x="245" y="2055.9" font-size="19.3" text-anchor="end"><tspan fill="#a2a2a2">−0.221 = </tspan>COPD</text>
<polygon points="428.3,2078.7 440.1,2078.7 446.7,2099.5 440.1,2120.3 428.3,2120.3" fill="#ff0051"/>
<text class="se" x="451.9" y="2104.3" font-size="17.8" fill="#e2114f">+0.04</text>
<text class="se" x="245" y="2106.5" font-size="19.3" text-anchor="end"><tspan fill="#a2a2a2">−0.375 = </tspan>CRP</text>
<polygon points="443.7,2129.4 434.5,2129.4 427.9,2150.2 434.5,2171 443.7,2171" fill="#008bfb"/>
<text class="se" x="422.3" y="2155" font-size="17.8" text-anchor="end" fill="#1580e0">−0.03</text>
<text class="se" x="245" y="2157.2" font-size="19.3" text-anchor="end"><tspan fill="#a2a2a2">−0.465 = </tspan>CRI</text>
<polygon points="430.1,2180.1 437.1,2180.1 443.7,2200.9 437.1,2221.7 430.1,2221.7" fill="#ff0051"/>
<text class="se" x="448.9" y="2205.7" font-size="17.8" fill="#e2114f">+0.03</text>
<text class="se" x="245" y="2207.9" font-size="19.3" text-anchor="end"><tspan fill="#a2a2a2">0.543 = </tspan>BMI</text>
<polygon points="442.9,2230.7 436.3,2230.7 429.7,2251.5 436.3,2272.3 442.9,2272.3" fill="#008bfb"/>
<text class="se" x="424.1" y="2256.3" font-size="17.8" text-anchor="end" fill="#1580e0">−0.02</text>
<text class="se" x="245" y="2258.5" font-size="19.3" text-anchor="end"><tspan fill="#a2a2a2">0.355 = </tspan>Antibiotics</text>
<polygon points="451.9,2281.4 447.7,2281.4 441.1,2302.2 447.7,2323 451.9,2323" fill="#008bfb"/>
<text class="se" x="435.5" y="2307" font-size="17.8" text-anchor="end" fill="#1580e0">−0.02</text>
<text class="se" x="239.8" y="2309.2" font-size="19.3" text-anchor="end"><tspan fill="#a2a2a2">1.597 = </tspan>Ca2+</text>
<polygon points="430.7,2332 445.3,2332 451.9,2352.8 445.3,2373.6 430.7,2373.6" fill="#ff0051"/>
<text class="se" x="457.1" y="2357.6" font-size="17.8" fill="#e2114f">+0.04</text>
<text class="se" x="245" y="2359.8" font-size="19.3" text-anchor="end">15 other features</text>
<line x1="254.1" x2="805.4" y1="2448.6" y2="2448.6" stroke="#262626" stroke-width="1.8"/>
<line x1="282.6" x2="282.6" y1="2448.6" y2="2454.0" stroke="#2a2a2a" stroke-width="1.4"/>
<text class="se" x="282.6" y="2473" font-size="19.2" text-anchor="middle" fill="#1a1a1a" textLength="34.8" lengthAdjust="spacingAndGlyphs">−2.8</text>
<line x1="374.6" x2="374.6" y1="2448.6" y2="2454.0" stroke="#2a2a2a" stroke-width="1.4"/>
<text class="se" x="374.6" y="2473" font-size="19.2" text-anchor="middle" fill="#1a1a1a" textLength="34.8" lengthAdjust="spacingAndGlyphs">−2.6</text>
<line x1="466.6" x2="466.6" y1="2448.6" y2="2454.0" stroke="#2a2a2a" stroke-width="1.4"/>
<text class="se" x="466.6" y="2473" font-size="19.2" text-anchor="middle" fill="#1a1a1a" textLength="34.8" lengthAdjust="spacingAndGlyphs">−2.4</text>
<line x1="558.6" x2="558.6" y1="2448.6" y2="2454.0" stroke="#2a2a2a" stroke-width="1.4"/>
<text class="se" x="558.6" y="2473" font-size="19.2" text-anchor="middle" fill="#1a1a1a" textLength="34.8" lengthAdjust="spacingAndGlyphs">−2.2</text>
<line x1="650.6" x2="650.6" y1="2448.6" y2="2454.0" stroke="#2a2a2a" stroke-width="1.4"/>
<text class="se" x="650.6" y="2473" font-size="19.2" text-anchor="middle" fill="#1a1a1a" textLength="34.8" lengthAdjust="spacingAndGlyphs">−2.0</text>
<line x1="742.6" x2="742.6" y1="2448.6" y2="2454.0" stroke="#2a2a2a" stroke-width="1.4"/>
<text class="se" x="742.6" y="2473" font-size="19.2" text-anchor="middle" fill="#1a1a1a" textLength="34.8" lengthAdjust="spacingAndGlyphs">−1.8</text>
<line x1="431.2" x2="431.2" y1="2448.6" y2="2454.0" stroke="#000" stroke-width="1.6"/>
<line x1="734.5" x2="734.5" y1="782.4" y2="787.4" stroke="#000" stroke-width="1.7"/>
<text class="dj" x="720.3" y="774.0" font-size="17.6" textLength="126.6" lengthAdjust="spacingAndGlyphs"><tspan font-style="italic">f</tspan>(<tspan font-style="italic">x</tspan>)<tspan fill="#a0a0a0"> = − 1.818</tspan></text>
<text class="dj" x="402.2" y="2491.2" font-size="17.6" textLength="155.6" lengthAdjust="spacingAndGlyphs"><tspan font-style="italic">E</tspan>[<tspan font-style="italic">f</tspan>(<tspan font-style="italic">X</tspan>)]<tspan fill="#a0a0a0"> = − 2.477</tspan></text>
</g>
</svg></body></html>
